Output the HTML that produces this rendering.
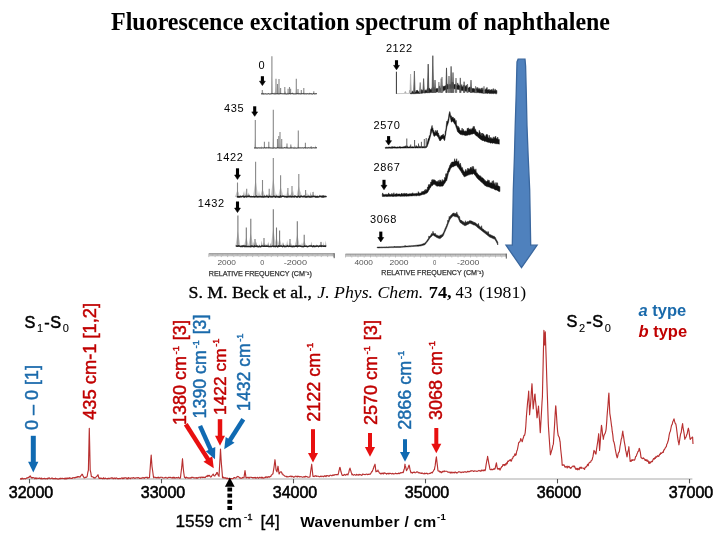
<!DOCTYPE html>
<html><head><meta charset="utf-8"><style>html,body{margin:0;padding:0;background:#fff;width:720px;height:540px;overflow:hidden}svg{display:block;will-change:transform}</style></head><body>
<svg width="720" height="540" viewBox="0 0 720 540">
<rect width="720" height="540" fill="#fff"/>
<text x="111" y="30" font-family="Liberation Serif, serif" font-weight="bold" font-size="24.2" textLength="499" lengthAdjust="spacingAndGlyphs">Fluorescence excitation spectrum of naphthalene</text>
<text x="258.5" y="68.8" font-family="Liberation Sans, sans-serif" font-size="11" letter-spacing="0.6" fill="#000">0</text>
<path d="M262.4 76.2 L262.4 81.7" stroke="#000" stroke-width="3.1"/><path d="M259.5 81.2 L265.3 81.2 L262.4 85.6 Z" fill="#000" stroke="#000" stroke-width="0.6" stroke-linejoin="round"/>
<path d="M261.9 94 L262.5 93 L263.1 94 Z" fill="#888"/>
<path d="M262.8 94 L263.4 92.4 L264 94 Z" fill="#888"/>
<path d="M264.9 94 L265.5 93.4 L266.1 94 Z" fill="#aaa"/>
<path d="M265.7 94 L266.3 93.9 L266.9 94 Z" fill="#888"/>
<path d="M267.9 94 L268.5 93.2 L269.1 94 Z" fill="#888"/>
<path d="M269.5 94 L270.1 93.5 L270.7 94 Z" fill="#888"/>
<path d="M271.1 94 L271.7 93.8 L272.3 94 Z" fill="#888"/>
<path d="M272.7 94 L273.3 93.3 L273.9 94 Z" fill="#888"/>
<path d="M274.3 94 L274.9 92.1 L275.5 94 Z" fill="#888"/>
<path d="M275.9 94 L276.5 93.3 L277.1 94 Z" fill="#aaa"/>
<path d="M277.8 94 L278.4 93.4 L279 94 Z" fill="#777"/>
<path d="M279 94 L279.6 93 L280.2 94 Z" fill="#999"/>
<path d="M279.9 94 L280.5 93.6 L281.1 94 Z" fill="#777"/>
<path d="M281.8 94 L282.4 93.7 L283 94 Z" fill="#888"/>
<path d="M283.3 94 L283.9 93.5 L284.5 94 Z" fill="#aaa"/>
<path d="M284.7 94 L285.3 91.1 L285.9 94 Z" fill="#777"/>
<path d="M285.9 94 L286.5 93.6 L287.1 94 Z" fill="#aaa"/>
<path d="M286.8 94 L287.4 93.7 L288 94 Z" fill="#888"/>
<path d="M287.6 94 L288.2 93.2 L288.8 94 Z" fill="#aaa"/>
<path d="M288.8 94 L289.4 93.5 L290 94 Z" fill="#888"/>
<path d="M291 94 L291.6 93.6 L292.2 94 Z" fill="#aaa"/>
<path d="M291.8 94 L292.4 91.7 L293 94 Z" fill="#999"/>
<path d="M293.1 94 L293.7 92.9 L294.3 94 Z" fill="#999"/>
<path d="M294.6 94 L295.2 93.3 L295.8 94 Z" fill="#aaa"/>
<path d="M296.6 94 L297.2 93.7 L297.8 94 Z" fill="#777"/>
<path d="M298.4 94 L299 92.9 L299.6 94 Z" fill="#888"/>
<path d="M299.4 94 L300 93.3 L300.6 94 Z" fill="#aaa"/>
<path d="M301.4 94 L302 93.5 L302.6 94 Z" fill="#999"/>
<path d="M302.8 94 L303.4 93.6 L304 94 Z" fill="#999"/>
<path d="M304.6 94 L305.2 93.4 L305.8 94 Z" fill="#888"/>
<path d="M306 94 L306.6 93 L307.2 94 Z" fill="#aaa"/>
<path d="M307.3 94 L307.9 93.5 L308.5 94 Z" fill="#aaa"/>
<path d="M308.2 94 L308.8 93.8 L309.4 94 Z" fill="#999"/>
<path d="M309.1 94 L309.7 92.2 L310.3 94 Z" fill="#999"/>
<path d="M310.6 94 L311.2 92.9 L311.8 94 Z" fill="#888"/>
<path d="M312.7 94 L313.3 92.2 L313.9 94 Z" fill="#777"/>
<path d="M314.9 94 L315.5 93.3 L316.1 94 Z" fill="#888"/>
<path d="M261.4 94 L262.3 92 L263.2 94 Z" fill="#c8c8c8"/>
<path d="M262.3 94 L262.3 90" stroke="#888" stroke-width="1.1"/>
<path d="M271 94 L271.9 75.2 L272.8 94 Z" fill="#c8c8c8"/>
<path d="M271.9 94 L271.9 56.3" stroke="#888" stroke-width="1.1"/>
<path d="M275.1 94 L276 86.4 L276.9 94 Z" fill="#c8c8c8"/>
<path d="M276 94 L276 78.8" stroke="#888" stroke-width="1.1"/>
<path d="M276.6 94 L277.5 89 L278.4 94 Z" fill="#c8c8c8"/>
<path d="M277.5 94 L277.5 84" stroke="#888" stroke-width="1.1"/>
<path d="M278.1 94 L279 86.5 L279.9 94 Z" fill="#c8c8c8"/>
<path d="M279 94 L279 79" stroke="#888" stroke-width="1.1"/>
<path d="M279.7 94 L280.6 91 L281.5 94 Z" fill="#c8c8c8"/>
<path d="M280.6 94 L280.6 88" stroke="#888" stroke-width="1.1"/>
<path d="M283.9 94 L284.8 90.5 L285.7 94 Z" fill="#c8c8c8"/>
<path d="M284.8 94 L284.8 86.9" stroke="#888" stroke-width="1.1"/>
<path d="M287.2 94 L288.1 91.4 L289 94 Z" fill="#c8c8c8"/>
<path d="M288.1 94 L288.1 88.8" stroke="#888" stroke-width="1.1"/>
<path d="M288.6 94 L289.5 90.5 L290.4 94 Z" fill="#c8c8c8"/>
<path d="M289.5 94 L289.5 87" stroke="#888" stroke-width="1.1"/>
<path d="M289.7 94 L290.6 91.4 L291.5 94 Z" fill="#c8c8c8"/>
<path d="M290.6 94 L290.6 88.8" stroke="#888" stroke-width="1.1"/>
<path d="M295.4 94 L296.3 86.4 L297.2 94 Z" fill="#c8c8c8"/>
<path d="M296.3 94 L296.3 78.8" stroke="#888" stroke-width="1.1"/>
<path d="M297.1 94 L298 91.5 L298.9 94 Z" fill="#c8c8c8"/>
<path d="M298 94 L298 89" stroke="#888" stroke-width="1.1"/>
<path d="M300.4 94 L301.3 92 L302.2 94 Z" fill="#c8c8c8"/>
<path d="M301.3 94 L301.3 90" stroke="#888" stroke-width="1.1"/>
<path d="M302.9 94 L303.8 91 L304.7 94 Z" fill="#c8c8c8"/>
<path d="M303.8 94 L303.8 88" stroke="#888" stroke-width="1.1"/>
<path d="M312.9 94 L313.8 92.7 L314.7 94 Z" fill="#c8c8c8"/>
<path d="M313.8 94 L313.8 91.3" stroke="#888" stroke-width="1.1"/>
<path d="M261 93.7 L261.7 93.9 L262.4 93.9 L263.1 94 L263.8 94 L264.5 93.9 L265.2 93.9 L265.9 93.8 L266.6 94 L267.3 94 L268 93.7 L268.7 93.8 L269.4 94 L270.1 93.8 L270.8 94 L271.5 93.8 L272.2 93.7 L272.9 93.7 L273.6 93.8 L274.3 93.9 L275 93.9 L275.7 93.9 L276.4 93.8 L277.1 93.8 L277.8 93.8 L278.5 93.9 L279.2 93.9 L279.9 93.8 L280.6 93.7 L281.3 93.7 L282 93.8 L282.7 93.8 L283.4 93.8 L284.1 93.9 L284.8 93.8 L285.5 93.9 L286.2 94 L286.9 94 L287.6 93.9 L288.3 93.9 L289 93.8 L289.7 93.7 L290.4 93.9 L291.1 93.7 L291.8 93.7 L292.5 93.7 L293.2 93.9 L293.9 93.9 L294.6 93.9 L295.3 93.9 L296 93.9 L296.7 93.8 L297.4 93.7 L298.1 93.7 L298.8 93.9 L299.5 93.8 L300.2 93.8 L300.9 94 L301.6 93.8 L302.3 93.7 L303 93.8 L303.7 93.8 L304.4 93.9 L305.1 93.9 L305.8 93.8 L306.5 93.9 L307.2 93.8 L307.9 93.7 L308.6 93.9 L309.3 93.9 L310 93.7 L310.7 93.8 L311.4 93.9 L312.1 94 L312.8 94 L313.5 93.7 L314.2 93.8 L314.9 94 L315.6 93.8 L316.3 93.7 L317 93.8" fill="none" stroke="#222" stroke-width="1.0"/>
<text x="224" y="111.7" font-family="Liberation Sans, sans-serif" font-size="11" letter-spacing="0.6" fill="#000">435</text>
<path d="M254.7 106.3 L254.7 112.4" stroke="#000" stroke-width="3.1"/><path d="M251.8 111.9 L257.6 111.9 L254.7 116.3 Z" fill="#000" stroke="#000" stroke-width="0.6" stroke-linejoin="round"/>
<path d="M254.9 148.1 L255.5 147.7 L256.1 148.1 Z" fill="#999"/>
<path d="M255.7 148.1 L256.3 147.1 L256.9 148.1 Z" fill="#888"/>
<path d="M257.2 148.1 L257.8 147 L258.4 148.1 Z" fill="#999"/>
<path d="M259.2 148.1 L259.8 147.5 L260.4 148.1 Z" fill="#777"/>
<path d="M260.7 148.1 L261.3 145.8 L261.9 148.1 Z" fill="#aaa"/>
<path d="M262.7 148.1 L263.3 148 L263.9 148.1 Z" fill="#aaa"/>
<path d="M264.5 148.1 L265.1 147.1 L265.7 148.1 Z" fill="#999"/>
<path d="M266 148.1 L266.6 146.5 L267.2 148.1 Z" fill="#aaa"/>
<path d="M267.9 148.1 L268.5 147.4 L269.1 148.1 Z" fill="#999"/>
<path d="M268.9 148.1 L269.5 147.5 L270.1 148.1 Z" fill="#888"/>
<path d="M270.2 148.1 L270.8 147.5 L271.4 148.1 Z" fill="#888"/>
<path d="M272.2 148.1 L272.8 147.9 L273.4 148.1 Z" fill="#888"/>
<path d="M274.2 148.1 L274.8 147.5 L275.4 148.1 Z" fill="#888"/>
<path d="M275.6 148.1 L276.2 147.4 L276.8 148.1 Z" fill="#999"/>
<path d="M277.4 148.1 L278 147.6 L278.6 148.1 Z" fill="#aaa"/>
<path d="M278.9 148.1 L279.5 147.8 L280.1 148.1 Z" fill="#777"/>
<path d="M281 148.1 L281.6 145.4 L282.2 148.1 Z" fill="#aaa"/>
<path d="M282 148.1 L282.6 148 L283.2 148.1 Z" fill="#888"/>
<path d="M283.7 148.1 L284.3 146.8 L284.9 148.1 Z" fill="#777"/>
<path d="M285.6 148.1 L286.2 145.4 L286.8 148.1 Z" fill="#777"/>
<path d="M286.6 148.1 L287.2 147 L287.8 148.1 Z" fill="#999"/>
<path d="M288.5 148.1 L289.1 148 L289.7 148.1 Z" fill="#999"/>
<path d="M290.7 148.1 L291.3 145.6 L291.9 148.1 Z" fill="#aaa"/>
<path d="M292.9 148.1 L293.5 147.6 L294.1 148.1 Z" fill="#777"/>
<path d="M294.2 148.1 L294.8 145.9 L295.4 148.1 Z" fill="#aaa"/>
<path d="M295.6 148.1 L296.2 148 L296.8 148.1 Z" fill="#777"/>
<path d="M297.1 148.1 L297.7 148 L298.3 148.1 Z" fill="#999"/>
<path d="M299.3 148.1 L299.9 147.8 L300.5 148.1 Z" fill="#888"/>
<path d="M301.4 148.1 L302 147.9 L302.6 148.1 Z" fill="#aaa"/>
<path d="M303.4 148.1 L304 147.3 L304.6 148.1 Z" fill="#aaa"/>
<path d="M304.4 148.1 L305 147 L305.6 148.1 Z" fill="#777"/>
<path d="M305.3 148.1 L305.9 148 L306.5 148.1 Z" fill="#aaa"/>
<path d="M307.4 148.1 L308 147.3 L308.6 148.1 Z" fill="#888"/>
<path d="M309.4 148.1 L310 148 L310.6 148.1 Z" fill="#888"/>
<path d="M310.5 148.1 L311.1 147.7 L311.7 148.1 Z" fill="#aaa"/>
<path d="M312.6 148.1 L313.2 147.3 L313.8 148.1 Z" fill="#999"/>
<path d="M314.8 148.1 L315.4 145.2 L316 148.1 Z" fill="#999"/>
<path d="M315.8 148.1 L316.4 147.2 L317 148.1 Z" fill="#999"/>
<path d="M254.4 148.1 L255.3 134.1 L256.2 148.1 Z" fill="#c8c8c8"/>
<path d="M255.3 148.1 L255.3 120" stroke="#888" stroke-width="1.1"/>
<path d="M272.4 148.1 L273.3 128.9 L274.2 148.1 Z" fill="#c8c8c8"/>
<path d="M273.3 148.1 L273.3 109.7" stroke="#888" stroke-width="1.1"/>
<path d="M263.5 148.1 L264.4 144.9 L265.3 148.1 Z" fill="#c8c8c8"/>
<path d="M264.4 148.1 L264.4 141.8" stroke="#888" stroke-width="1.1"/>
<path d="M267.9 148.1 L268.8 144.9 L269.7 148.1 Z" fill="#c8c8c8"/>
<path d="M268.8 148.1 L268.8 141.8" stroke="#888" stroke-width="1.1"/>
<path d="M276.6 148.1 L277.5 143.6 L278.4 148.1 Z" fill="#c8c8c8"/>
<path d="M277.5 148.1 L277.5 139" stroke="#888" stroke-width="1.1"/>
<path d="M277.9 148.1 L278.8 142.1 L279.7 148.1 Z" fill="#c8c8c8"/>
<path d="M278.8 148.1 L278.8 136" stroke="#888" stroke-width="1.1"/>
<path d="M279.1 148.1 L280 140.1 L280.9 148.1 Z" fill="#c8c8c8"/>
<path d="M280 148.1 L280 132.1" stroke="#888" stroke-width="1.1"/>
<path d="M280.8 148.1 L281.7 143.6 L282.6 148.1 Z" fill="#c8c8c8"/>
<path d="M281.7 148.1 L281.7 139" stroke="#888" stroke-width="1.1"/>
<path d="M286.1 148.1 L287 145.8 L287.9 148.1 Z" fill="#c8c8c8"/>
<path d="M287 148.1 L287 143.5" stroke="#888" stroke-width="1.1"/>
<path d="M289.9 148.1 L290.8 146.3 L291.7 148.1 Z" fill="#c8c8c8"/>
<path d="M290.8 148.1 L290.8 144.5" stroke="#888" stroke-width="1.1"/>
<path d="M297.4 148.1 L298.3 139.3 L299.2 148.1 Z" fill="#c8c8c8"/>
<path d="M298.3 148.1 L298.3 130.6" stroke="#888" stroke-width="1.1"/>
<path d="M304.5 148.1 L305.4 145.4 L306.3 148.1 Z" fill="#c8c8c8"/>
<path d="M305.4 148.1 L305.4 142.8" stroke="#888" stroke-width="1.1"/>
<path d="M310.3 148.1 L311.2 147.1 L312.1 148.1 Z" fill="#c8c8c8"/>
<path d="M311.2 148.1 L311.2 146.2" stroke="#888" stroke-width="1.1"/>
<path d="M254 147.9 L254.7 148 L255.4 148 L256.1 148.1 L256.8 148 L257.5 148.1 L258.2 147.9 L258.9 147.9 L259.6 148 L260.3 148 L261 147.8 L261.7 148.1 L262.4 147.9 L263.1 148 L263.8 148 L264.5 147.8 L265.2 148 L265.9 147.9 L266.6 147.9 L267.3 147.8 L268 148 L268.7 147.9 L269.4 147.9 L270.1 147.9 L270.8 148 L271.5 148 L272.2 148.1 L272.9 148.1 L273.6 148.1 L274.3 147.9 L275 148 L275.7 148.1 L276.4 148.1 L277.1 147.8 L277.8 147.8 L278.5 147.9 L279.2 148 L279.9 148 L280.6 148 L281.3 148 L282 148.1 L282.7 148 L283.4 148 L284.1 147.8 L284.8 147.8 L285.5 147.9 L286.2 148 L286.9 147.8 L287.6 148 L288.3 148 L289 148.1 L289.7 148 L290.4 148 L291.1 147.9 L291.8 148 L292.5 147.9 L293.2 148.1 L293.9 148 L294.6 148.1 L295.3 148 L296 148.1 L296.7 148.1 L297.4 148 L298.1 148 L298.8 147.9 L299.5 147.9 L300.2 147.9 L300.9 147.9 L301.6 147.9 L302.3 147.8 L303 148 L303.7 148 L304.4 147.8 L305.1 148.1 L305.8 147.9 L306.5 147.9 L307.2 148.1 L307.9 147.8 L308.6 147.8 L309.3 147.9 L310 147.9 L310.7 147.9 L311.4 148.1 L312.1 147.9 L312.8 147.9 L313.5 147.8 L314.2 147.9 L314.9 147.9 L315.6 147.9 L316.3 147.8 L317 147.9" fill="none" stroke="#222" stroke-width="1.0"/>
<text x="216.5" y="161.3" font-family="Liberation Sans, sans-serif" font-size="11" letter-spacing="0.6" fill="#000">1422</text>
<path d="M237.5 168.3 L237.5 175.5" stroke="#000" stroke-width="3.1"/><path d="M234.6 175 L240.4 175 L237.5 179.4 Z" fill="#000" stroke="#000" stroke-width="0.6" stroke-linejoin="round"/>
<path d="M237.8 197 L238.4 192.1 L239 197 Z" fill="#888"/>
<path d="M238.3 197 L238.9 195.2 L239.5 197 Z" fill="#aaa"/>
<path d="M239.7 197 L240.3 195.4 L240.9 197 Z" fill="#999"/>
<path d="M240.7 197 L241.3 197 L241.9 197 Z" fill="#888"/>
<path d="M241.8 197 L242.4 196.8 L243 197 Z" fill="#777"/>
<path d="M243.1 197 L243.7 191.1 L244.3 197 Z" fill="#999"/>
<path d="M243.9 197 L244.5 195.2 L245.1 197 Z" fill="#aaa"/>
<path d="M244.4 197 L245 190.6 L245.6 197 Z" fill="#888"/>
<path d="M245.6 197 L246.2 192.5 L246.8 197 Z" fill="#999"/>
<path d="M246.4 197 L247 195.2 L247.6 197 Z" fill="#999"/>
<path d="M246.9 197 L247.5 196.6 L248.1 197 Z" fill="#888"/>
<path d="M248.1 197 L248.7 192.3 L249.3 197 Z" fill="#777"/>
<path d="M249.1 197 L249.7 193.7 L250.3 197 Z" fill="#999"/>
<path d="M249.9 197 L250.5 196.8 L251.1 197 Z" fill="#777"/>
<path d="M250.8 197 L251.4 194.7 L252 197 Z" fill="#aaa"/>
<path d="M252.3 197 L252.9 195.9 L253.5 197 Z" fill="#999"/>
<path d="M252.9 197 L253.5 196.7 L254.1 197 Z" fill="#777"/>
<path d="M254.4 197 L255 196.6 L255.6 197 Z" fill="#777"/>
<path d="M255.7 197 L256.3 192.1 L256.9 197 Z" fill="#aaa"/>
<path d="M256.6 197 L257.2 196.6 L257.8 197 Z" fill="#aaa"/>
<path d="M257.5 197 L258.1 195 L258.7 197 Z" fill="#aaa"/>
<path d="M258.4 197 L259 191.1 L259.6 197 Z" fill="#777"/>
<path d="M259.7 197 L260.3 196.7 L260.9 197 Z" fill="#888"/>
<path d="M261.1 197 L261.7 195 L262.3 197 Z" fill="#aaa"/>
<path d="M262 197 L262.6 190.9 L263.2 197 Z" fill="#aaa"/>
<path d="M263.2 197 L263.8 191 L264.4 197 Z" fill="#888"/>
<path d="M264.6 197 L265.2 196.2 L265.8 197 Z" fill="#999"/>
<path d="M266 197 L266.6 193.9 L267.2 197 Z" fill="#777"/>
<path d="M267.3 197 L267.9 194 L268.5 197 Z" fill="#aaa"/>
<path d="M268.7 197 L269.3 194.4 L269.9 197 Z" fill="#888"/>
<path d="M269.3 197 L269.9 194.9 L270.5 197 Z" fill="#999"/>
<path d="M270.4 197 L271 195 L271.6 197 Z" fill="#999"/>
<path d="M271.1 197 L271.7 194.1 L272.3 197 Z" fill="#777"/>
<path d="M272.3 197 L272.9 190.2 L273.5 197 Z" fill="#999"/>
<path d="M273.2 197 L273.8 193.1 L274.4 197 Z" fill="#999"/>
<path d="M274.3 197 L274.9 196.8 L275.5 197 Z" fill="#aaa"/>
<path d="M275.3 197 L275.9 193.8 L276.5 197 Z" fill="#aaa"/>
<path d="M276.3 197 L276.9 193.2 L277.5 197 Z" fill="#999"/>
<path d="M277.1 197 L277.7 196.4 L278.3 197 Z" fill="#777"/>
<path d="M278.4 197 L279 195.6 L279.6 197 Z" fill="#aaa"/>
<path d="M279.3 197 L279.9 191.8 L280.5 197 Z" fill="#777"/>
<path d="M280.1 197 L280.7 196.6 L281.3 197 Z" fill="#777"/>
<path d="M280.8 197 L281.4 195.6 L282 197 Z" fill="#999"/>
<path d="M281.4 197 L282 190.7 L282.6 197 Z" fill="#aaa"/>
<path d="M282.3 197 L282.9 196.1 L283.5 197 Z" fill="#888"/>
<path d="M282.9 197 L283.5 195.8 L284.1 197 Z" fill="#aaa"/>
<path d="M284.4 197 L285 193.6 L285.6 197 Z" fill="#aaa"/>
<path d="M285.9 197 L286.5 195.3 L287.1 197 Z" fill="#999"/>
<path d="M286.5 197 L287.1 190.2 L287.7 197 Z" fill="#aaa"/>
<path d="M287.1 197 L287.7 191.6 L288.3 197 Z" fill="#999"/>
<path d="M287.8 197 L288.4 194.4 L289 197 Z" fill="#777"/>
<path d="M289.3 197 L289.9 195.2 L290.5 197 Z" fill="#aaa"/>
<path d="M290.5 197 L291.1 196.2 L291.7 197 Z" fill="#999"/>
<path d="M291.4 197 L292 196.4 L292.6 197 Z" fill="#888"/>
<path d="M292.4 197 L293 190 L293.6 197 Z" fill="#777"/>
<path d="M293.6 197 L294.2 194.5 L294.8 197 Z" fill="#999"/>
<path d="M294.6 197 L295.2 196.9 L295.8 197 Z" fill="#777"/>
<path d="M295.2 197 L295.8 196.5 L296.4 197 Z" fill="#aaa"/>
<path d="M295.7 197 L296.3 196.4 L296.9 197 Z" fill="#777"/>
<path d="M296.5 197 L297.1 196.8 L297.7 197 Z" fill="#aaa"/>
<path d="M297.3 197 L297.9 194.2 L298.5 197 Z" fill="#777"/>
<path d="M298.6 197 L299.2 193.5 L299.8 197 Z" fill="#999"/>
<path d="M299.4 197 L300 191.3 L300.6 197 Z" fill="#999"/>
<path d="M300.2 197 L300.8 190.8 L301.4 197 Z" fill="#aaa"/>
<path d="M301.3 197 L301.9 194.5 L302.5 197 Z" fill="#888"/>
<path d="M302.7 197 L303.3 196 L303.9 197 Z" fill="#999"/>
<path d="M303.2 197 L303.8 195.3 L304.4 197 Z" fill="#888"/>
<path d="M303.9 197 L304.5 195.7 L305.1 197 Z" fill="#777"/>
<path d="M305.2 197 L305.8 194.2 L306.4 197 Z" fill="#777"/>
<path d="M305.8 197 L306.4 195.2 L307 197 Z" fill="#aaa"/>
<path d="M306.4 197 L307 192.3 L307.6 197 Z" fill="#777"/>
<path d="M307.9 197 L308.5 193.9 L309.1 197 Z" fill="#888"/>
<path d="M308.6 197 L309.2 196 L309.8 197 Z" fill="#888"/>
<path d="M309.7 197 L310.3 191.7 L310.9 197 Z" fill="#777"/>
<path d="M311 197 L311.6 194 L312.2 197 Z" fill="#aaa"/>
<path d="M311.7 197 L312.3 195.5 L312.9 197 Z" fill="#777"/>
<path d="M312.6 197 L313.2 190.7 L313.8 197 Z" fill="#aaa"/>
<path d="M313.3 197 L313.9 195.2 L314.5 197 Z" fill="#aaa"/>
<path d="M313.9 197 L314.5 196.8 L315.1 197 Z" fill="#777"/>
<path d="M314.6 197 L315.2 196.8 L315.8 197 Z" fill="#777"/>
<path d="M315.3 197 L315.9 194.3 L316.5 197 Z" fill="#777"/>
<path d="M316.6 197 L317.2 195.1 L317.8 197 Z" fill="#777"/>
<path d="M317.1 197 L317.7 194.9 L318.3 197 Z" fill="#888"/>
<path d="M317.6 197 L318.2 196.3 L318.8 197 Z" fill="#aaa"/>
<path d="M319.1 197 L319.7 194.3 L320.3 197 Z" fill="#aaa"/>
<path d="M320.4 197 L321 196.6 L321.6 197 Z" fill="#888"/>
<path d="M321.7 197 L322.3 194.9 L322.9 197 Z" fill="#999"/>
<path d="M322.8 197 L323.4 194.7 L324 197 Z" fill="#777"/>
<path d="M324.1 197 L324.7 195.3 L325.3 197 Z" fill="#aaa"/>
<path d="M325.3 197 L325.9 195.3 L326.5 197 Z" fill="#888"/>
<path d="M234.9 197 L237.5 189.8 L240.1 197 Z" fill="#c8c8c8"/>
<path d="M237.5 197 L237.5 182.5" stroke="#888" stroke-width="1.1"/>
<path d="M244.1 197 L246.7 192.9 L249.3 197 Z" fill="#c8c8c8"/>
<path d="M246.7 197 L246.7 188.8" stroke="#888" stroke-width="1.1"/>
<path d="M253 197 L255.6 179.3 L258.2 197 Z" fill="#c8c8c8"/>
<path d="M255.6 197 L255.6 161.7" stroke="#888" stroke-width="1.1"/>
<path d="M259.9 197 L262.5 188.5 L265.1 197 Z" fill="#c8c8c8"/>
<path d="M262.5 197 L262.5 180" stroke="#888" stroke-width="1.1"/>
<path d="M266.6 197 L269.2 192.9 L271.8 197 Z" fill="#c8c8c8"/>
<path d="M269.2 197 L269.2 188.8" stroke="#888" stroke-width="1.1"/>
<path d="M270.7 197 L273.3 177.4 L275.9 197 Z" fill="#c8c8c8"/>
<path d="M273.3 197 L273.3 157.9" stroke="#888" stroke-width="1.1"/>
<path d="M278 197 L280.6 186.1 L283.2 197 Z" fill="#c8c8c8"/>
<path d="M280.6 197 L280.6 175.2" stroke="#888" stroke-width="1.1"/>
<path d="M285.3 197 L287.9 192.5 L290.5 197 Z" fill="#c8c8c8"/>
<path d="M287.9 197 L287.9 188" stroke="#888" stroke-width="1.1"/>
<path d="M289.4 197 L292 191.5 L294.6 197 Z" fill="#c8c8c8"/>
<path d="M292 197 L292 186" stroke="#888" stroke-width="1.1"/>
<path d="M296.2 197 L298.8 185.5 L301.4 197 Z" fill="#c8c8c8"/>
<path d="M298.8 197 L298.8 174" stroke="#888" stroke-width="1.1"/>
<path d="M303 197 L305.6 193.5 L308.2 197 Z" fill="#c8c8c8"/>
<path d="M305.6 197 L305.6 190" stroke="#888" stroke-width="1.1"/>
<path d="M310.4 197 L313 194.5 L315.6 197 Z" fill="#c8c8c8"/>
<path d="M313 197 L313 192" stroke="#888" stroke-width="1.1"/>
<path d="M236.9 196.6 L237.6 196.9 L238.3 196.7 L239 196.9 L239.7 196.9 L240.4 196.5 L241.1 196.8 L241.8 196.7 L242.5 196.2 L243.2 196.2 L243.9 196.9 L244.6 196.9 L245.3 196.6 L246 196.3 L246.7 196.8 L247.4 196.6 L248.1 196.4 L248.8 196.4 L249.5 196.4 L250.2 196.8 L250.9 196.8 L251.6 196.8 L252.3 196.8 L253 196.8 L253.7 196.6 L254.4 196.9 L255.1 196.8 L255.8 196.8 L256.5 196.3 L257.2 196.8 L257.9 196.9 L258.6 196.8 L259.3 196.8 L260 196.6 L260.7 196.5 L261.4 196.9 L262.1 196.6 L262.8 197 L263.5 197 L264.2 196.3 L264.9 196.8 L265.6 196.6 L266.3 196.7 L267 196.3 L267.7 196.8 L268.4 197 L269.1 196.5 L269.8 196.3 L270.5 196.8 L271.2 196.9 L271.9 196.6 L272.6 196.9 L273.3 196.5 L274 196.4 L274.7 196.5 L275.4 197 L276.1 196.5 L276.8 196.4 L277.5 196.7 L278.2 197 L278.9 196.7 L279.6 197 L280.3 196.2 L281 197 L281.7 196.4 L282.4 196.3 L283.1 196.3 L283.8 196.3 L284.5 196.7 L285.2 196.7 L285.9 196.5 L286.6 196.9 L287.3 197 L288 196.6 L288.7 196.6 L289.4 196.7 L290.1 196.4 L290.8 196.5 L291.5 196.9 L292.2 196.6 L292.9 196.5 L293.6 196.7 L294.3 196.8 L295 196.2 L295.7 196.5 L296.4 196.7 L297.1 197 L297.8 196.4 L298.5 196.3 L299.2 196.7 L299.9 197 L300.6 196.4 L301.3 196.4 L302 196.5 L302.7 196.7 L303.4 196.7 L304.1 196.2 L304.8 196.7 L305.5 196.9 L306.2 196.9 L306.9 196.9 L307.6 196.5 L308.3 196.7 L309 196.4 L309.7 196.9 L310.4 197 L311.1 196.9 L311.8 196.4 L312.5 196.7 L313.2 196.5 L313.9 196.3 L314.6 196.4 L315.3 196.9 L316 196.7 L316.7 196.9 L317.4 196.9 L318.1 196.9 L318.8 196.7 L319.5 196.4 L320.2 196.4 L320.9 196.4 L321.6 196.8 L322.3 196.3 L323 197 L323.7 196.3 L324.4 196.7 L325.1 196.5 L325.8 196.5 L326.5 196.9" fill="none" stroke="#222" stroke-width="1.6"/>
<text x="197.8" y="206.7" font-family="Liberation Sans, sans-serif" font-size="11" letter-spacing="0.6" fill="#000">1432</text>
<path d="M237.5 201.5 L237.5 208.6" stroke="#000" stroke-width="3.1"/><path d="M234.6 208.1 L240.4 208.1 L237.5 212.5 Z" fill="#000" stroke="#000" stroke-width="0.6" stroke-linejoin="round"/>
<path d="M236.7 246.7 L237.3 244.7 L237.9 246.7 Z" fill="#999"/>
<path d="M237.8 246.7 L238.4 244.3 L239 246.7 Z" fill="#999"/>
<path d="M239.2 246.7 L239.8 245.4 L240.4 246.7 Z" fill="#aaa"/>
<path d="M240.6 246.7 L241.2 245.6 L241.8 246.7 Z" fill="#999"/>
<path d="M241.4 246.7 L242 244.7 L242.6 246.7 Z" fill="#888"/>
<path d="M242.7 246.7 L243.3 244.3 L243.9 246.7 Z" fill="#777"/>
<path d="M243.4 246.7 L244 245 L244.6 246.7 Z" fill="#777"/>
<path d="M244.5 246.7 L245.1 244.5 L245.7 246.7 Z" fill="#aaa"/>
<path d="M245.7 246.7 L246.3 245.4 L246.9 246.7 Z" fill="#888"/>
<path d="M246.2 246.7 L246.8 243.9 L247.4 246.7 Z" fill="#aaa"/>
<path d="M247.4 246.7 L248 244.5 L248.6 246.7 Z" fill="#999"/>
<path d="M248.7 246.7 L249.3 243.9 L249.9 246.7 Z" fill="#777"/>
<path d="M249.7 246.7 L250.3 246.4 L250.9 246.7 Z" fill="#888"/>
<path d="M250.2 246.7 L250.8 246.3 L251.4 246.7 Z" fill="#777"/>
<path d="M251.5 246.7 L252.1 243.1 L252.7 246.7 Z" fill="#aaa"/>
<path d="M252.6 246.7 L253.2 241.2 L253.8 246.7 Z" fill="#888"/>
<path d="M254.1 246.7 L254.7 244.7 L255.3 246.7 Z" fill="#999"/>
<path d="M254.8 246.7 L255.4 240.5 L256 246.7 Z" fill="#999"/>
<path d="M256 246.7 L256.6 241.7 L257.2 246.7 Z" fill="#777"/>
<path d="M257.1 246.7 L257.7 244.9 L258.3 246.7 Z" fill="#777"/>
<path d="M258.5 246.7 L259.1 243.5 L259.7 246.7 Z" fill="#aaa"/>
<path d="M259.2 246.7 L259.8 246 L260.4 246.7 Z" fill="#777"/>
<path d="M260.1 246.7 L260.7 246.1 L261.3 246.7 Z" fill="#777"/>
<path d="M261.2 246.7 L261.8 240.4 L262.4 246.7 Z" fill="#777"/>
<path d="M261.8 246.7 L262.4 245.2 L263 246.7 Z" fill="#777"/>
<path d="M263.3 246.7 L263.9 245.4 L264.5 246.7 Z" fill="#888"/>
<path d="M264.1 246.7 L264.7 245.2 L265.3 246.7 Z" fill="#777"/>
<path d="M264.8 246.7 L265.4 243.9 L266 246.7 Z" fill="#777"/>
<path d="M265.7 246.7 L266.3 246.1 L266.9 246.7 Z" fill="#888"/>
<path d="M266.5 246.7 L267.1 243.1 L267.7 246.7 Z" fill="#777"/>
<path d="M267.7 246.7 L268.3 241.5 L268.9 246.7 Z" fill="#777"/>
<path d="M268.8 246.7 L269.4 245.5 L270 246.7 Z" fill="#888"/>
<path d="M269.4 246.7 L270 246.1 L270.6 246.7 Z" fill="#888"/>
<path d="M270 246.7 L270.6 242.7 L271.2 246.7 Z" fill="#777"/>
<path d="M271 246.7 L271.6 243.8 L272.2 246.7 Z" fill="#999"/>
<path d="M271.7 246.7 L272.3 245 L272.9 246.7 Z" fill="#999"/>
<path d="M272.2 246.7 L272.8 244.5 L273.4 246.7 Z" fill="#aaa"/>
<path d="M272.8 246.7 L273.4 244.9 L274 246.7 Z" fill="#777"/>
<path d="M273.7 246.7 L274.3 244.9 L274.9 246.7 Z" fill="#777"/>
<path d="M274.8 246.7 L275.4 245.1 L276 246.7 Z" fill="#aaa"/>
<path d="M275.6 246.7 L276.2 240.4 L276.8 246.7 Z" fill="#888"/>
<path d="M276.5 246.7 L277.1 245 L277.7 246.7 Z" fill="#888"/>
<path d="M277 246.7 L277.6 245.2 L278.2 246.7 Z" fill="#999"/>
<path d="M277.9 246.7 L278.5 245.2 L279.1 246.7 Z" fill="#aaa"/>
<path d="M279.2 246.7 L279.8 245.5 L280.4 246.7 Z" fill="#777"/>
<path d="M280.4 246.7 L281 243.9 L281.6 246.7 Z" fill="#aaa"/>
<path d="M281.6 246.7 L282.2 246.7 L282.8 246.7 Z" fill="#aaa"/>
<path d="M282.2 246.7 L282.8 242.1 L283.4 246.7 Z" fill="#888"/>
<path d="M282.9 246.7 L283.5 242.2 L284.1 246.7 Z" fill="#777"/>
<path d="M284.1 246.7 L284.7 246 L285.3 246.7 Z" fill="#aaa"/>
<path d="M285.3 246.7 L285.9 244.1 L286.5 246.7 Z" fill="#777"/>
<path d="M286.5 246.7 L287.1 239.9 L287.7 246.7 Z" fill="#888"/>
<path d="M287.1 246.7 L287.7 244.2 L288.3 246.7 Z" fill="#999"/>
<path d="M288.6 246.7 L289.2 241.5 L289.8 246.7 Z" fill="#aaa"/>
<path d="M289.4 246.7 L290 246 L290.6 246.7 Z" fill="#aaa"/>
<path d="M290.4 246.7 L291 243 L291.6 246.7 Z" fill="#888"/>
<path d="M291.3 246.7 L291.9 244.7 L292.5 246.7 Z" fill="#777"/>
<path d="M292.6 246.7 L293.2 245.6 L293.8 246.7 Z" fill="#999"/>
<path d="M293.2 246.7 L293.8 246.5 L294.4 246.7 Z" fill="#999"/>
<path d="M294.1 246.7 L294.7 245.7 L295.3 246.7 Z" fill="#888"/>
<path d="M294.7 246.7 L295.3 242.2 L295.9 246.7 Z" fill="#888"/>
<path d="M296 246.7 L296.6 246.5 L297.2 246.7 Z" fill="#777"/>
<path d="M296.7 246.7 L297.3 244 L297.9 246.7 Z" fill="#888"/>
<path d="M298 246.7 L298.6 244.6 L299.2 246.7 Z" fill="#aaa"/>
<path d="M298.6 246.7 L299.2 245.3 L299.8 246.7 Z" fill="#888"/>
<path d="M300.1 246.7 L300.7 244.1 L301.3 246.7 Z" fill="#888"/>
<path d="M301.4 246.7 L302 242.3 L302.6 246.7 Z" fill="#888"/>
<path d="M302.1 246.7 L302.7 244.5 L303.3 246.7 Z" fill="#777"/>
<path d="M302.9 246.7 L303.5 243.7 L304.1 246.7 Z" fill="#777"/>
<path d="M304.3 246.7 L304.9 246.6 L305.5 246.7 Z" fill="#777"/>
<path d="M305.6 246.7 L306.2 245 L306.8 246.7 Z" fill="#777"/>
<path d="M306.7 246.7 L307.3 246.6 L307.9 246.7 Z" fill="#aaa"/>
<path d="M307.7 246.7 L308.3 246.4 L308.9 246.7 Z" fill="#888"/>
<path d="M308.7 246.7 L309.3 246.1 L309.9 246.7 Z" fill="#888"/>
<path d="M309.8 246.7 L310.4 245.9 L311 246.7 Z" fill="#999"/>
<path d="M310.6 246.7 L311.2 241.4 L311.8 246.7 Z" fill="#777"/>
<path d="M311.6 246.7 L312.2 245.3 L312.8 246.7 Z" fill="#999"/>
<path d="M313.1 246.7 L313.7 245 L314.3 246.7 Z" fill="#777"/>
<path d="M314.1 246.7 L314.7 246.3 L315.3 246.7 Z" fill="#999"/>
<path d="M315.1 246.7 L315.7 246.4 L316.3 246.7 Z" fill="#888"/>
<path d="M316.1 246.7 L316.7 243.9 L317.3 246.7 Z" fill="#888"/>
<path d="M317.3 246.7 L317.9 245.7 L318.5 246.7 Z" fill="#aaa"/>
<path d="M318.7 246.7 L319.3 244.6 L319.9 246.7 Z" fill="#888"/>
<path d="M319.5 246.7 L320.1 245.9 L320.7 246.7 Z" fill="#999"/>
<path d="M320.4 246.7 L321 240.5 L321.6 246.7 Z" fill="#aaa"/>
<path d="M321 246.7 L321.6 245 L322.2 246.7 Z" fill="#888"/>
<path d="M321.9 246.7 L322.5 244.4 L323.1 246.7 Z" fill="#aaa"/>
<path d="M323 246.7 L323.6 241.5 L324.2 246.7 Z" fill="#aaa"/>
<path d="M324.2 246.7 L324.8 244.9 L325.4 246.7 Z" fill="#777"/>
<path d="M325.2 246.7 L325.8 240.5 L326.4 246.7 Z" fill="#999"/>
<path d="M235.3 246.7 L237.9 231.1 L240.5 246.7 Z" fill="#c8c8c8"/>
<path d="M237.9 246.7 L237.9 215.4" stroke="#777" stroke-width="1.1"/>
<path d="M243.7 246.7 L246.3 237.1 L248.9 246.7 Z" fill="#c8c8c8"/>
<path d="M246.3 246.7 L246.3 227.5" stroke="#777" stroke-width="1.1"/>
<path d="M248.2 246.7 L250.8 232.8 L253.4 246.7 Z" fill="#c8c8c8"/>
<path d="M250.8 246.7 L250.8 218.8" stroke="#777" stroke-width="1.1"/>
<path d="M252.4 246.7 L255 242.8 L257.6 246.7 Z" fill="#c8c8c8"/>
<path d="M255 246.7 L255 239" stroke="#777" stroke-width="1.1"/>
<path d="M261.4 246.7 L264 242.3 L266.6 246.7 Z" fill="#c8c8c8"/>
<path d="M264 246.7 L264 238" stroke="#777" stroke-width="1.1"/>
<path d="M270.7 246.7 L273.3 227.9 L275.9 246.7 Z" fill="#c8c8c8"/>
<path d="M273.3 246.7 L273.3 209.2" stroke="#777" stroke-width="1.1"/>
<path d="M273.9 246.7 L276.5 237.1 L279.1 246.7 Z" fill="#c8c8c8"/>
<path d="M276.5 246.7 L276.5 227.5" stroke="#777" stroke-width="1.1"/>
<path d="M277 246.7 L279.6 238.6 L282.2 246.7 Z" fill="#c8c8c8"/>
<path d="M279.6 246.7 L279.6 230.6" stroke="#777" stroke-width="1.1"/>
<path d="M287.4 246.7 L290 242.8 L292.6 246.7 Z" fill="#c8c8c8"/>
<path d="M290 246.7 L290 239" stroke="#777" stroke-width="1.1"/>
<path d="M294.7 246.7 L297.3 234 L299.9 246.7 Z" fill="#c8c8c8"/>
<path d="M297.3 246.7 L297.3 221.3" stroke="#777" stroke-width="1.1"/>
<path d="M301.6 246.7 L304.2 240.8 L306.8 246.7 Z" fill="#c8c8c8"/>
<path d="M304.2 246.7 L304.2 234.8" stroke="#777" stroke-width="1.1"/>
<path d="M318.4 246.7 L321 244.3 L323.6 246.7 Z" fill="#c8c8c8"/>
<path d="M321 246.7 L321 242" stroke="#777" stroke-width="1.1"/>
<path d="M235.8 246.1 L236.5 246 L237.2 246.2 L237.9 246.1 L238.6 245.9 L239.3 246.1 L240 246.2 L240.7 246.4 L241.4 246.5 L242.1 245.9 L242.8 246.5 L243.5 245.9 L244.2 245.9 L244.9 246.6 L245.6 246.2 L246.3 246.5 L247 246.6 L247.7 246.6 L248.4 246.5 L249.1 246.5 L249.8 246.5 L250.5 246.6 L251.2 246 L251.9 246.5 L252.6 246 L253.3 246.3 L254 246.7 L254.7 246 L255.4 246.4 L256.1 246.5 L256.8 245.9 L257.5 246.5 L258.2 246.7 L258.9 246.5 L259.6 246.1 L260.3 246.7 L261 246.5 L261.7 246 L262.4 246.1 L263.1 246.2 L263.8 246.2 L264.5 246 L265.2 246.2 L265.9 246.2 L266.6 246 L267.3 246.2 L268 246.2 L268.7 246.5 L269.4 246.6 L270.1 246.6 L270.8 246.4 L271.5 246.5 L272.2 246.1 L272.9 246 L273.6 246.5 L274.3 246.4 L275 246.1 L275.7 246.6 L276.4 246 L277.1 246.3 L277.8 246.7 L278.5 246 L279.2 246.3 L279.9 246.2 L280.6 246 L281.3 246 L282 246.4 L282.7 246.7 L283.4 246 L284.1 246 L284.8 246.6 L285.5 246.5 L286.2 246.5 L286.9 246.1 L287.6 245.9 L288.3 246.5 L289 246.4 L289.7 246 L290.4 246.3 L291.1 246.5 L291.8 246.3 L292.5 246.7 L293.2 246.1 L293.9 246.4 L294.6 246.4 L295.3 246.1 L296 246.3 L296.7 245.9 L297.4 246.6 L298.1 246.3 L298.8 246 L299.5 246.1 L300.2 246.2 L300.9 246.2 L301.6 246.5 L302.3 246.4 L303 246.7 L303.7 246.6 L304.4 246 L305.1 246.2 L305.8 246.2 L306.5 246.2 L307.2 246.6 L307.9 246.5 L308.6 246.4 L309.3 245.9 L310 245.9 L310.7 245.9 L311.4 245.9 L312.1 246.3 L312.8 246.6 L313.5 246 L314.2 246.6 L314.9 246.1 L315.6 246.5 L316.3 246.2 L317 246.1 L317.7 246 L318.4 246.6 L319.1 246.2 L319.8 246 L320.5 246.1 L321.2 246.4 L321.9 245.9 L322.6 246.1 L323.3 246.2 L324 246.1 L324.7 246.3 L325.4 246.1 L326.1 246.5" fill="none" stroke="#222" stroke-width="1.5"/>
<rect x="208.8" y="253.9" width="125.4" height="2.6" fill="#e2e2e2"/>
<path d="M208.8 253.7 L334.2 253.7" stroke="#777" stroke-width="0.8"/>
<path d="M208.8 253.7 L208.8 257.1" stroke="#888" stroke-width="0.5"/>
<path d="M210.1 253.7 L210.1 256.1" stroke="#888" stroke-width="0.5"/>
<path d="M211.3 253.7 L211.3 256.1" stroke="#888" stroke-width="0.5"/>
<path d="M212.6 253.7 L212.6 256.1" stroke="#888" stroke-width="0.5"/>
<path d="M213.8 253.7 L213.8 256.1" stroke="#888" stroke-width="0.5"/>
<path d="M215.1 253.7 L215.1 257.1" stroke="#888" stroke-width="0.5"/>
<path d="M216.3 253.7 L216.3 256.1" stroke="#888" stroke-width="0.5"/>
<path d="M217.6 253.7 L217.6 256.1" stroke="#888" stroke-width="0.5"/>
<path d="M218.8 253.7 L218.8 256.1" stroke="#888" stroke-width="0.5"/>
<path d="M220.1 253.7 L220.1 256.1" stroke="#888" stroke-width="0.5"/>
<path d="M221.3 253.7 L221.3 257.1" stroke="#888" stroke-width="0.5"/>
<path d="M222.6 253.7 L222.6 256.1" stroke="#888" stroke-width="0.5"/>
<path d="M223.8 253.7 L223.8 256.1" stroke="#888" stroke-width="0.5"/>
<path d="M225.1 253.7 L225.1 256.1" stroke="#888" stroke-width="0.5"/>
<path d="M226.3 253.7 L226.3 256.1" stroke="#888" stroke-width="0.5"/>
<path d="M227.6 253.7 L227.6 257.1" stroke="#888" stroke-width="0.5"/>
<path d="M228.8 253.7 L228.8 256.1" stroke="#888" stroke-width="0.5"/>
<path d="M230.1 253.7 L230.1 256.1" stroke="#888" stroke-width="0.5"/>
<path d="M231.3 253.7 L231.3 256.1" stroke="#888" stroke-width="0.5"/>
<path d="M232.6 253.7 L232.6 256.1" stroke="#888" stroke-width="0.5"/>
<path d="M233.8 253.7 L233.8 257.1" stroke="#888" stroke-width="0.5"/>
<path d="M235.1 253.7 L235.1 256.1" stroke="#888" stroke-width="0.5"/>
<path d="M236.3 253.7 L236.3 256.1" stroke="#888" stroke-width="0.5"/>
<path d="M237.6 253.7 L237.6 256.1" stroke="#888" stroke-width="0.5"/>
<path d="M238.8 253.7 L238.8 256.1" stroke="#888" stroke-width="0.5"/>
<path d="M240.1 253.7 L240.1 257.1" stroke="#888" stroke-width="0.5"/>
<path d="M241.3 253.7 L241.3 256.1" stroke="#888" stroke-width="0.5"/>
<path d="M242.6 253.7 L242.6 256.1" stroke="#888" stroke-width="0.5"/>
<path d="M243.8 253.7 L243.8 256.1" stroke="#888" stroke-width="0.5"/>
<path d="M245.1 253.7 L245.1 256.1" stroke="#888" stroke-width="0.5"/>
<path d="M246.3 253.7 L246.3 257.1" stroke="#888" stroke-width="0.5"/>
<path d="M247.6 253.7 L247.6 256.1" stroke="#888" stroke-width="0.5"/>
<path d="M248.8 253.7 L248.8 256.1" stroke="#888" stroke-width="0.5"/>
<path d="M250.1 253.7 L250.1 256.1" stroke="#888" stroke-width="0.5"/>
<path d="M251.3 253.7 L251.3 256.1" stroke="#888" stroke-width="0.5"/>
<path d="M252.6 253.7 L252.6 257.1" stroke="#888" stroke-width="0.5"/>
<path d="M253.8 253.7 L253.8 256.1" stroke="#888" stroke-width="0.5"/>
<path d="M255.1 253.7 L255.1 256.1" stroke="#888" stroke-width="0.5"/>
<path d="M256.3 253.7 L256.3 256.1" stroke="#888" stroke-width="0.5"/>
<path d="M257.6 253.7 L257.6 256.1" stroke="#888" stroke-width="0.5"/>
<path d="M258.8 253.7 L258.8 257.1" stroke="#888" stroke-width="0.5"/>
<path d="M260.1 253.7 L260.1 256.1" stroke="#888" stroke-width="0.5"/>
<path d="M261.3 253.7 L261.3 256.1" stroke="#888" stroke-width="0.5"/>
<path d="M262.6 253.7 L262.6 256.1" stroke="#888" stroke-width="0.5"/>
<path d="M263.8 253.7 L263.8 256.1" stroke="#888" stroke-width="0.5"/>
<path d="M265.1 253.7 L265.1 257.1" stroke="#888" stroke-width="0.5"/>
<path d="M266.3 253.7 L266.3 256.1" stroke="#888" stroke-width="0.5"/>
<path d="M267.6 253.7 L267.6 256.1" stroke="#888" stroke-width="0.5"/>
<path d="M268.8 253.7 L268.8 256.1" stroke="#888" stroke-width="0.5"/>
<path d="M270.1 253.7 L270.1 256.1" stroke="#888" stroke-width="0.5"/>
<path d="M271.3 253.7 L271.3 257.1" stroke="#888" stroke-width="0.5"/>
<path d="M272.6 253.7 L272.6 256.1" stroke="#888" stroke-width="0.5"/>
<path d="M273.8 253.7 L273.8 256.1" stroke="#888" stroke-width="0.5"/>
<path d="M275.1 253.7 L275.1 256.1" stroke="#888" stroke-width="0.5"/>
<path d="M276.3 253.7 L276.3 256.1" stroke="#888" stroke-width="0.5"/>
<path d="M277.6 253.7 L277.6 257.1" stroke="#888" stroke-width="0.5"/>
<path d="M278.8 253.7 L278.8 256.1" stroke="#888" stroke-width="0.5"/>
<path d="M280.1 253.7 L280.1 256.1" stroke="#888" stroke-width="0.5"/>
<path d="M281.3 253.7 L281.3 256.1" stroke="#888" stroke-width="0.5"/>
<path d="M282.6 253.7 L282.6 256.1" stroke="#888" stroke-width="0.5"/>
<path d="M283.8 253.7 L283.8 257.1" stroke="#888" stroke-width="0.5"/>
<path d="M285.1 253.7 L285.1 256.1" stroke="#888" stroke-width="0.5"/>
<path d="M286.3 253.7 L286.3 256.1" stroke="#888" stroke-width="0.5"/>
<path d="M287.6 253.7 L287.6 256.1" stroke="#888" stroke-width="0.5"/>
<path d="M288.8 253.7 L288.8 256.1" stroke="#888" stroke-width="0.5"/>
<path d="M290.1 253.7 L290.1 257.1" stroke="#888" stroke-width="0.5"/>
<path d="M291.3 253.7 L291.3 256.1" stroke="#888" stroke-width="0.5"/>
<path d="M292.6 253.7 L292.6 256.1" stroke="#888" stroke-width="0.5"/>
<path d="M293.8 253.7 L293.8 256.1" stroke="#888" stroke-width="0.5"/>
<path d="M295.1 253.7 L295.1 256.1" stroke="#888" stroke-width="0.5"/>
<path d="M296.3 253.7 L296.3 257.1" stroke="#888" stroke-width="0.5"/>
<path d="M297.6 253.7 L297.6 256.1" stroke="#888" stroke-width="0.5"/>
<path d="M298.8 253.7 L298.8 256.1" stroke="#888" stroke-width="0.5"/>
<path d="M300.1 253.7 L300.1 256.1" stroke="#888" stroke-width="0.5"/>
<path d="M301.3 253.7 L301.3 256.1" stroke="#888" stroke-width="0.5"/>
<path d="M302.6 253.7 L302.6 257.1" stroke="#888" stroke-width="0.5"/>
<path d="M303.8 253.7 L303.8 256.1" stroke="#888" stroke-width="0.5"/>
<path d="M305.1 253.7 L305.1 256.1" stroke="#888" stroke-width="0.5"/>
<path d="M306.3 253.7 L306.3 256.1" stroke="#888" stroke-width="0.5"/>
<path d="M307.6 253.7 L307.6 256.1" stroke="#888" stroke-width="0.5"/>
<path d="M308.8 253.7 L308.8 257.1" stroke="#888" stroke-width="0.5"/>
<path d="M310.1 253.7 L310.1 256.1" stroke="#888" stroke-width="0.5"/>
<path d="M311.3 253.7 L311.3 256.1" stroke="#888" stroke-width="0.5"/>
<path d="M312.6 253.7 L312.6 256.1" stroke="#888" stroke-width="0.5"/>
<path d="M313.8 253.7 L313.8 256.1" stroke="#888" stroke-width="0.5"/>
<path d="M315.1 253.7 L315.1 257.1" stroke="#888" stroke-width="0.5"/>
<path d="M316.3 253.7 L316.3 256.1" stroke="#888" stroke-width="0.5"/>
<path d="M317.6 253.7 L317.6 256.1" stroke="#888" stroke-width="0.5"/>
<path d="M318.8 253.7 L318.8 256.1" stroke="#888" stroke-width="0.5"/>
<path d="M320.1 253.7 L320.1 256.1" stroke="#888" stroke-width="0.5"/>
<path d="M321.3 253.7 L321.3 257.1" stroke="#888" stroke-width="0.5"/>
<path d="M322.6 253.7 L322.6 256.1" stroke="#888" stroke-width="0.5"/>
<path d="M323.8 253.7 L323.8 256.1" stroke="#888" stroke-width="0.5"/>
<path d="M325.1 253.7 L325.1 256.1" stroke="#888" stroke-width="0.5"/>
<path d="M326.3 253.7 L326.3 256.1" stroke="#888" stroke-width="0.5"/>
<path d="M327.6 253.7 L327.6 257.1" stroke="#888" stroke-width="0.5"/>
<path d="M328.8 253.7 L328.8 256.1" stroke="#888" stroke-width="0.5"/>
<path d="M330.1 253.7 L330.1 256.1" stroke="#888" stroke-width="0.5"/>
<path d="M331.3 253.7 L331.3 256.1" stroke="#888" stroke-width="0.5"/>
<path d="M332.6 253.7 L332.6 256.1" stroke="#888" stroke-width="0.5"/>
<path d="M333.8 253.7 L333.8 257.1" stroke="#888" stroke-width="0.5"/>
<path d="M334.2 253.2 L334.2 258.2" stroke="#444" stroke-width="0.9"/>
<g font-family="Liberation Sans, sans-serif" font-size="6.6" fill="#555">
<text x="217.5" y="265.4" textLength="18.5" lengthAdjust="spacingAndGlyphs">2000</text><text x="260.3" y="265.4" textLength="4" lengthAdjust="spacingAndGlyphs">0</text><text x="283.7" y="265.4" textLength="23.3" lengthAdjust="spacingAndGlyphs">-2000</text>
</g>
<text x="208.8" y="276.2" font-family="Liberation Sans, sans-serif" font-size="6.8" fill="#333" stroke="#333" stroke-width="0.25" textLength="103" lengthAdjust="spacingAndGlyphs">RELATIVE FREQUENCY (CM⁻¹)</text>
<text x="385.9" y="51.7" font-family="Liberation Sans, sans-serif" font-size="11" letter-spacing="0.6" fill="#000">2122</text>
<path d="M396.5 60.2 L396.5 65.9" stroke="#000" stroke-width="3.1"/><path d="M393.6 65.4 L399.4 65.4 L396.5 69.8 Z" fill="#000" stroke="#000" stroke-width="0.6" stroke-linejoin="round"/>
<path d="M396.4 93.9 L396.4 71.7" stroke="#333" stroke-width="1"/>
<path d="M397 93.6 L411 93.4" stroke="#bbb" stroke-width="0.8"/>
<path d="M410.5 92.1 L410.9 92.2 L411.4 92.2 L411.8 92.1 L412.3 90.8 L412.7 92.2 L413.2 91.8 L413.6 91.9 L414.1 92.1 L414.5 91.9 L415 91.9 L415.4 91.9 L415.9 91.7 L416.3 90.2 L416.8 91.7 L417.2 90.1 L417.7 90.5 L418.1 91.6 L418.6 91.7 L419 91.4 L419.5 91.4 L419.9 91.5 L420.4 91.3 L420.8 91.2 L421.3 89.5 L421.7 89.9 L422.2 91.2 L422.6 89.8 L423.1 90.7 L423.5 91 L424 90.9 L424.4 90.5 L424.9 90.9 L425.3 89.7 L425.8 90.8 L426.2 90.4 L426.7 90.5 L427.1 88.6 L427.6 89 L428 88.5 L428.5 89.4 L428.9 88.2 L429.4 88.3 L429.8 88.7 L430.3 89.6 L430.7 89.4 L431.2 89.4 L431.6 89.4 L432.1 87.8 L432.5 89.7 L433 89.6 L433.4 89.1 L433.9 87.1 L434.3 88.4 L434.8 89 L435.2 89 L435.7 89.1 L436.1 88.7 L436.6 88.4 L437 88.4 L437.5 88.5 L437.9 88.4 L438.4 88.3 L438.8 88.1 L439.3 86.1 L439.7 86.1 L440.2 88.3 L440.6 88.2 L441.1 87.7 L441.5 87.6 L442 85.4 L442.4 86.4 L442.9 86 L443.3 86.1 L443.8 87.2 L444.2 86.3 L444.7 86.1 L445.1 86.1 L445.6 85.8 L446 85.3 L446.5 85.8 L446.9 85 L447.4 83.9 L447.8 85.5 L448.3 85.3 L448.7 85 L449.2 84 L449.6 85 L450.1 85 L450.5 84.4 L451 85 L451.4 83.3 L451.9 81.9 L452.3 82.1 L452.8 84.5 L453.2 82.4 L453.7 85.1 L454.1 84.6 L454.6 84.6 L455 84.6 L455.5 84 L455.9 85.1 L456.4 85.3 L456.8 85.5 L457.3 85.7 L457.7 82.9 L458.2 85.3 L458.6 84.7 L459.1 85.6 L459.5 85.8 L460 86 L460.4 85.8 L460.9 86.2 L461.3 86.5 L461.8 84.5 L462.2 86.1 L462.7 87 L463.1 86.9 L463.6 85.6 L464 85.1 L464.5 85.8 L464.9 87.3 L465.4 86.5 L465.8 85.6 L466.3 87.4 L466.7 84.9 L467.2 86.8 L467.6 88 L468.1 88.1 L468.5 87.9 L469 87.7 L469.4 87.1 L469.9 87 L470.3 87.3 L470.8 88.1 L471.2 87.5 L471.7 87.7 L472.1 88.3 L472.6 88.8 L473 88.3 L473.5 88.5 L473.9 89 L474.4 89.2 L474.8 88.6 L475.3 88.6 L475.7 89.2 L476.2 88.8 L476.6 88.8 L477.1 87.2 L477.5 89.5 L478 87.7 L478.4 88.9 L478.9 89.2 L479.3 89.3 L479.8 88.2 L480.2 88.5 L480.7 89.9 L481.1 89.6 L481.6 87.9 L482 90.1 L482.5 89.6 L482.9 87.7 L483.4 89.5 L483.8 89.8 L484.3 89.9 L484.7 90.1 L485.2 89.6 L485.6 89.5 L486.1 88.4 L486.5 89.6 L487 87.3 L487.4 89.9 L487.9 89.9 L488.3 89.7 L488.8 89.8 L489.2 89.2 L489.7 90.5 L490.1 90.2 L490.6 89.9 L491 90.1 L491.5 90.3 L491.9 89.1 L492.4 90.5 L492.8 90.7 L493.3 88.5 L493.7 90.7 L494.2 90.6 L494.6 90.7 L495.1 88.9 L495.5 90.5 L496 90.3 L496.4 90.4 L496.9 90.5 L496.9 93.5 L496.4 93.8 L496 93.6 L495.5 93.7 L495.1 93.5 L494.6 93.3 L494.2 93.4 L493.7 93.7 L493.3 93.5 L492.8 93.4 L492.4 93.5 L491.9 93.4 L491.5 93.6 L491 93.6 L490.6 93.5 L490.1 93.4 L489.7 93.4 L489.2 93.6 L488.8 93.3 L488.3 93.1 L487.9 93.5 L487.4 93.5 L487 93.1 L486.5 93.3 L486.1 93.2 L485.6 93.2 L485.2 93.3 L484.7 93.3 L484.3 93.2 L483.8 93.4 L483.4 93.3 L482.9 93.1 L482.5 93.2 L482 93.2 L481.6 93.1 L481.1 92.9 L480.7 92.8 L480.2 93 L479.8 92.8 L479.3 92.9 L478.9 92.8 L478.4 92.6 L478 92.7 L477.5 92.6 L477.1 92.5 L476.6 92.6 L476.2 92.8 L475.7 92.8 L475.3 92.4 L474.8 92.5 L474.4 92.6 L473.9 92.5 L473.5 92.2 L473 92.2 L472.6 92.2 L472.1 92.5 L471.7 92.3 L471.2 92.2 L470.8 92.2 L470.3 92.1 L469.9 91.9 L469.4 91.8 L469 92 L468.5 91.7 L468.1 91.7 L467.6 91.7 L467.2 91.4 L466.7 91.3 L466.3 91.4 L465.8 91.3 L465.4 91.1 L464.9 91.2 L464.5 90.7 L464 90.9 L463.6 90.9 L463.1 90.6 L462.7 90.4 L462.2 90.7 L461.8 90.5 L461.3 90.4 L460.9 90.4 L460.4 90.2 L460 89.9 L459.5 89.8 L459.1 89.7 L458.6 89.4 L458.2 89.5 L457.7 89.4 L457.3 89.3 L456.8 89.4 L456.4 89 L455.9 88.9 L455.5 88.8 L455 89 L454.6 89 L454.1 88.8 L453.7 88.5 L453.2 88.8 L452.8 88.6 L452.3 88.3 L451.9 88.4 L451.4 88.3 L451 88.5 L450.5 88.6 L450.1 88.9 L449.6 88.9 L449.2 88.7 L448.7 88.8 L448.3 89.1 L447.8 89 L447.4 89.1 L446.9 89.2 L446.5 89.2 L446 89.6 L445.6 89.6 L445.1 89.9 L444.7 90.2 L444.2 90.3 L443.8 90.6 L443.3 91.2 L442.9 91.2 L442.4 91.5 L442 91.6 L441.5 91.2 L441.1 91.5 L440.6 91.6 L440.2 91.7 L439.7 91.8 L439.3 91.9 L438.8 91.7 L438.4 91.7 L437.9 92 L437.5 91.8 L437 92.1 L436.6 92.2 L436.1 92 L435.7 92.2 L435.2 92.2 L434.8 92.2 L434.3 92.1 L433.9 92.4 L433.4 92.2 L433 92.3 L432.5 92.4 L432.1 92.6 L431.6 92.4 L431.2 92.5 L430.7 92.5 L430.3 92.5 L429.8 92.7 L429.4 92.7 L428.9 92.6 L428.5 92.7 L428 92.8 L427.6 92.7 L427.1 92.9 L426.7 92.7 L426.2 92.8 L425.8 93.1 L425.3 92.8 L424.9 93 L424.4 93.1 L424 93 L423.5 92.9 L423.1 93.1 L422.6 93.3 L422.2 93.1 L421.7 93.2 L421.3 93.4 L420.8 93.2 L420.4 93.3 L419.9 93.4 L419.5 93.5 L419 93.4 L418.6 93.4 L418.1 93.6 L417.7 93.5 L417.2 93.4 L416.8 93.5 L416.3 93.6 L415.9 93.7 L415.4 93.6 L415 93.7 L414.5 93.7 L414.1 93.6 L413.6 93.7 L413.2 93.7 L412.7 93.7 L412.3 93.6 L411.8 93.7 L411.4 93.8 L410.9 93.8 L410.5 93.8Z" fill="#1a1a1a" stroke="#1a1a1a" stroke-width="0.5"/>
<path d="M404.6 92.5 L405.3 91.5 L406.1 92.5 Z" fill="#999" stroke="#999" stroke-width="0.5599999999999999"/>
<path d="M409.1 92.5 L409.9 90 L410.6 92.5 Z" fill="#999" stroke="#999" stroke-width="0.5599999999999999"/>
<path d="M409.9 92.5 L410.6 74 L411.4 92.5 Z" fill="#aaa" stroke="#aaa" stroke-width="0.5599999999999999"/>
<path d="M413.6 92.5 L414.4 71 L415.1 92.5 Z" fill="#555" stroke="#555" stroke-width="0.7"/>
<path d="M419.4 92.5 L420.2 82.5 L420.9 92.5 Z" fill="#777" stroke="#777" stroke-width="0.7"/>
<path d="M422.9 92.5 L423.6 78.6 L424.4 92.5 Z" fill="#555" stroke="#555" stroke-width="0.77"/>
<path d="M427.4 92.5 L428.2 64.1 L428.9 92.5 Z" fill="#444" stroke="#444" stroke-width="0.77"/>
<path d="M432.1 92.5 L432.8 55.7 L433.6 92.5 Z" fill="#555" stroke="#555" stroke-width="0.84"/>
<path d="M434.2 92.5 L435 80 L435.8 92.5 Z" fill="#555" stroke="#555" stroke-width="0.7"/>
<path d="M438.1 92.5 L438.9 82 L439.6 92.5 Z" fill="#777" stroke="#777" stroke-width="0.63"/>
<path d="M440.4 92.5 L441.2 78.6 L441.9 92.5 Z" fill="#666" stroke="#666" stroke-width="0.7"/>
<path d="M441.2 92.5 L442 77 L442.8 92.5 Z" fill="#777" stroke="#777" stroke-width="0.63"/>
<path d="M445.8 92.5 L446.5 67.9 L447.2 92.5 Z" fill="#444" stroke="#444" stroke-width="0.77"/>
<path d="M448.2 92.5 L449 76 L449.8 92.5 Z" fill="#666" stroke="#666" stroke-width="0.7"/>
<path d="M450.4 92.5 L451.1 66.4 L451.9 92.5 Z" fill="#555" stroke="#555" stroke-width="0.77"/>
<path d="M452.2 92.5 L453 72.5 L453.8 92.5 Z" fill="#555" stroke="#555" stroke-width="0.7"/>
<path d="M455.2 92.5 L456 78 L456.8 92.5 Z" fill="#666" stroke="#666" stroke-width="0.63"/>
<path d="M459.6 92.5 L460.3 77.9 L461.1 92.5 Z" fill="#555" stroke="#555" stroke-width="0.7"/>
<path d="M463.4 92.5 L464.1 81.7 L464.9 92.5 Z" fill="#555" stroke="#555" stroke-width="0.7"/>
<path d="M466.8 92.5 L467.5 84 L468.2 92.5 Z" fill="#666" stroke="#666" stroke-width="0.63"/>
<path d="M470.2 92.5 L471 80.1 L471.8 92.5 Z" fill="#555" stroke="#555" stroke-width="0.7"/>
<path d="M474.9 92.5 L475.6 86.2 L476.4 92.5 Z" fill="#666" stroke="#666" stroke-width="0.63"/>
<path d="M483.2 92.5 L484 86.2 L484.8 92.5 Z" fill="#777" stroke="#777" stroke-width="0.63"/>
<text x="373.6" y="128.9" font-family="Liberation Sans, sans-serif" font-size="11" letter-spacing="0.6" fill="#000">2570</text>
<path d="M388.6 136.1 L388.6 141.2" stroke="#000" stroke-width="3.1"/><path d="M385.7 140.7 L391.5 140.7 L388.6 145.1 Z" fill="#000" stroke="#000" stroke-width="0.6" stroke-linejoin="round"/>
<path d="M385.3 147.2 L385.7 147.4 L386.1 147.1 L386.5 147.2 L386.9 147.3 L387.3 147.3 L387.7 147.3 L388.1 147.2 L388.5 147.1 L388.9 147.2 L389.3 147.1 L389.7 147 L390.1 147.1 L390.5 147.2 L390.9 147.2 L391.3 147.2 L391.7 147 L392.1 146.3 L392.5 147.2 L392.9 147 L393.3 147.1 L393.7 147.1 L394.1 146.4 L394.5 146.9 L394.9 147.1 L395.3 146.9 L395.7 147 L396.1 147.1 L396.5 147.2 L396.9 147.1 L397.3 146.9 L397.7 146.9 L398.1 147.1 L398.5 147.2 L398.9 146.9 L399.3 146.4 L399.7 147 L400.1 146.6 L400.5 146.9 L400.9 147.1 L401.3 147.1 L401.7 147.1 L402.1 147 L402.5 146.9 L402.9 146.9 L403.3 147 L403.7 146.8 L404.1 146.2 L404.5 147 L404.9 146.5 L405.3 146.9 L405.7 145.7 L406.1 146.8 L406.5 145.8 L406.9 146.9 L407.3 145.8 L407.7 147 L408.1 146.9 L408.5 146.9 L408.9 146.9 L409.3 146.9 L409.7 146.9 L410.1 145.8 L410.5 146.8 L410.9 146.8 L411.3 146.9 L411.7 146.8 L412.1 146.8 L412.5 146.7 L412.9 146.8 L413.3 146.8 L413.7 146.9 L414.1 146.9 L414.5 146.7 L414.9 146.9 L415.3 146.7 L415.7 146.8 L416.1 145.4 L416.5 146.6 L416.9 146.6 L417.3 146.6 L417.7 146.7 L418.1 146.8 L418.5 146.6 L418.9 145.6 L419.3 146.5 L419.7 146.8 L420.1 146.6 L420.5 146.7 L420.9 146.6 L421.3 146.5 L421.7 146.6 L422.1 146.6 L422.5 146.8 L422.9 146.5 L423.3 146.5 L423.7 146.8 L424.1 146.7 L424.5 146.5 L424.9 146.7 L425.3 146.4 L425.7 146.6 L426.1 146.3 L426.5 145.7 L426.9 144.6 L427.3 141.8 L427.7 141.3 L428.1 139 L428.5 138.3 L428.9 138.3 L429.3 135.6 L429.7 135.9 L430.1 134.4 L430.5 131.1 L430.9 128.8 L431.3 128.8 L431.7 126.7 L432.1 125.4 L432.5 128.7 L432.9 127.9 L433.3 131.2 L433.7 130.2 L434.1 133.3 L434.5 131.7 L434.9 132.4 L435.3 132.7 L435.7 130.3 L436.1 131.6 L436.5 132.3 L436.9 130.8 L437.3 130.2 L437.7 132 L438.1 133.7 L438.5 133 L438.9 135.3 L439.3 135.4 L439.7 136.9 L440.1 136.7 L440.5 137 L440.9 135.8 L441.3 135.2 L441.7 135.9 L442.1 135.2 L442.5 134.9 L442.9 134.7 L443.3 133.9 L443.7 135.6 L444.1 136.3 L444.5 135.4 L444.9 135.7 L445.3 131 L445.7 130.5 L446.1 127.1 L446.5 123.2 L446.9 121.1 L447.3 122 L447.7 120.8 L448.1 119.2 L448.5 118.2 L448.9 114.4 L449.3 113 L449.7 111.5 L450.1 112.6 L450.5 115.2 L450.9 116.6 L451.3 115.7 L451.7 117.4 L452.1 118.1 L452.5 117.1 L452.9 117.2 L453.3 117.3 L453.7 118.7 L454.1 119.3 L454.5 118.3 L454.9 118.8 L455.3 120.8 L455.7 122.3 L456.1 120.3 L456.5 124.4 L456.9 125.5 L457.3 126 L457.7 128.2 L458.1 126.1 L458.5 128 L458.9 127.4 L459.3 127.8 L459.7 130 L460.1 130.3 L460.5 130.6 L460.9 130.7 L461.3 130.4 L461.7 130.9 L462.1 128 L462.5 131.1 L462.9 130.4 L463.3 129.2 L463.7 130.6 L464.1 131.3 L464.5 131.2 L464.9 131.3 L465.3 131.3 L465.7 130.8 L466.1 130.9 L466.5 131.5 L466.9 130.9 L467.3 128.1 L467.7 128.8 L468.1 130.2 L468.5 127.8 L468.9 128.4 L469.3 130 L469.7 129 L470.1 130 L470.5 129.5 L470.9 128.6 L471.3 129.5 L471.7 129.7 L472.1 128.3 L472.5 129.2 L472.9 127.6 L473.3 126.4 L473.7 129 L474.1 126.2 L474.5 127.8 L474.9 129.7 L475.3 129.3 L475.7 129.5 L476.1 131.4 L476.5 131.7 L476.9 131.8 L477.3 131.9 L477.7 132.3 L478.1 133 L478.5 133.5 L478.9 133.7 L479.3 130.3 L479.7 132.5 L480.1 132.1 L480.5 134.3 L480.9 135.2 L481.3 133 L481.7 135.8 L482.1 136.3 L482.5 133 L482.9 135.1 L483.3 133.7 L483.7 134.3 L484.1 135.1 L484.5 136.1 L484.9 136.3 L485.3 137.2 L485.7 136.1 L486.1 134.6 L486.5 134.4 L486.9 134.9 L487.3 134.4 L487.7 135.1 L488.1 137.9 L488.5 137.9 L488.9 137.8 L489.3 135.2 L489.7 138.7 L490.1 138.1 L490.5 138.7 L490.9 137.1 L491.3 138.9 L491.7 138.3 L492.1 138.5 L492.5 139 L492.9 138.1 L493.3 136.8 L493.7 139 L494.1 138.3 L494.5 138.2 L494.9 136.8 L495.3 137.3 L495.7 136.1 L496.1 138.9 L496.5 138.6 L496.9 138.6 L497.3 139.6 L497.7 137 L498.1 139.3 L498.5 139.2 L498.9 139.4 L499.3 139.5 L499.3 144.2 L498.9 143.9 L498.5 143.9 L498.1 144 L497.7 143.8 L497.3 143.8 L496.9 143.9 L496.5 143.7 L496.1 143.4 L495.7 143.7 L495.3 143.4 L494.9 143.6 L494.5 143.2 L494.1 143.2 L493.7 143 L493.3 143.1 L492.9 143 L492.5 143.4 L492.1 143.2 L491.7 143 L491.3 142.8 L490.9 143.2 L490.5 143.1 L490.1 142.9 L489.7 142.5 L489.3 142.5 L488.9 142.4 L488.5 142.3 L488.1 142.4 L487.7 142 L487.3 142.2 L486.9 141.8 L486.5 141.9 L486.1 141.4 L485.7 141.3 L485.3 141.2 L484.9 141.4 L484.5 141.2 L484.1 141.2 L483.7 140.7 L483.3 140.4 L482.9 140.8 L482.5 140.5 L482.1 140.4 L481.7 140 L481.3 140.1 L480.9 139.6 L480.5 139.3 L480.1 139.1 L479.7 138.7 L479.3 138.2 L478.9 137.9 L478.5 137.7 L478.1 137 L477.7 136.8 L477.3 136.6 L476.9 135.9 L476.5 135.9 L476.1 135.8 L475.7 135.3 L475.3 135 L474.9 134.3 L474.5 134.1 L474.1 133.5 L473.7 134 L473.3 133.5 L472.9 134 L472.5 134.2 L472.1 133.8 L471.7 134.3 L471.3 134 L470.9 134.2 L470.5 134.7 L470.1 134.4 L469.7 134.7 L469.3 135 L468.9 135 L468.5 134.8 L468.1 134.8 L467.7 135.2 L467.3 135.3 L466.9 135.3 L466.5 135.3 L466.1 135.7 L465.7 135.6 L465.3 135.5 L464.9 135.5 L464.5 135.2 L464.1 134.9 L463.7 134.9 L463.3 134.8 L462.9 134.7 L462.5 135 L462.1 134.8 L461.7 134.6 L461.3 134.7 L460.9 134.4 L460.5 134.4 L460.1 134.2 L459.7 134 L459.3 133.2 L458.9 133 L458.5 132.7 L458.1 132.2 L457.7 131.9 L457.3 131.1 L456.9 129.6 L456.5 128.3 L456.1 127.3 L455.7 125.7 L455.3 124.9 L454.9 123.9 L454.5 123.9 L454.1 123 L453.7 122.5 L453.3 122 L452.9 121.5 L452.5 120.8 L452.1 121.4 L451.7 122.2 L451.3 122 L450.9 120 L450.5 118.5 L450.1 116.7 L449.7 115.3 L449.3 117.2 L448.9 119.9 L448.5 122.3 L448.1 123.4 L447.7 124.7 L447.3 125.7 L446.9 126.9 L446.5 129.2 L446.1 131.5 L445.7 134.5 L445.3 136.6 L444.9 139.6 L444.5 140.7 L444.1 139.9 L443.7 139.3 L443.3 138.6 L442.9 138.4 L442.5 138.5 L442.1 138.9 L441.7 139 L441.3 139.5 L440.9 140.4 L440.5 140.3 L440.1 141 L439.7 140.7 L439.3 139.7 L438.9 138.7 L438.5 138.3 L438.1 136.8 L437.7 136.7 L437.3 136 L436.9 135.7 L436.5 135.6 L436.1 134.9 L435.7 135.3 L435.3 135.5 L434.9 135.7 L434.5 136.3 L434.1 136.4 L433.7 135.6 L433.3 134.5 L432.9 133.1 L432.5 131.9 L432.1 130.5 L431.7 131.7 L431.3 133.3 L430.9 134.6 L430.5 136.1 L430.1 137.5 L429.7 138.9 L429.3 140.2 L428.9 141.6 L428.5 142.9 L428.1 144 L427.7 145.1 L427.3 146.4 L426.9 146.9 L426.5 147.3 L426.1 147.7 L425.7 147.8 L425.3 147.8 L424.9 147.8 L424.5 147.9 L424.1 147.9 L423.7 147.7 L423.3 147.9 L422.9 147.9 L422.5 147.9 L422.1 147.8 L421.7 147.8 L421.3 147.8 L420.9 147.8 L420.5 147.9 L420.1 147.8 L419.7 147.9 L419.3 147.8 L418.9 148 L418.5 147.9 L418.1 147.8 L417.7 147.9 L417.3 147.9 L416.9 147.9 L416.5 147.8 L416.1 147.9 L415.7 148 L415.3 148 L414.9 147.8 L414.5 147.8 L414.1 148 L413.7 148 L413.3 147.9 L412.9 147.9 L412.5 148 L412.1 147.9 L411.7 148 L411.3 147.9 L410.9 148 L410.5 148 L410.1 147.9 L409.7 147.9 L409.3 148 L408.9 148.1 L408.5 148 L408.1 148 L407.7 148.1 L407.3 147.9 L406.9 148.1 L406.5 148 L406.1 148.1 L405.7 148 L405.3 148 L404.9 148 L404.5 148.1 L404.1 147.9 L403.7 148.1 L403.3 148 L402.9 148 L402.5 148.1 L402.1 148.1 L401.7 148 L401.3 148.1 L400.9 148 L400.5 148.2 L400.1 148.2 L399.7 148 L399.3 148.1 L398.9 148.2 L398.5 148.1 L398.1 148 L397.7 148.1 L397.3 148.2 L396.9 148.2 L396.5 148.2 L396.1 148.1 L395.7 148.1 L395.3 148.2 L394.9 148.1 L394.5 148.1 L394.1 148.2 L393.7 148.1 L393.3 148.1 L392.9 148.2 L392.5 148.2 L392.1 148.2 L391.7 148.3 L391.3 148.2 L390.9 148.3 L390.5 148.2 L390.1 148.3 L389.7 148.2 L389.3 148.1 L388.9 148.2 L388.5 148.2 L388.1 148.2 L387.7 148.3 L387.3 148.2 L386.9 148.3 L386.5 148.3 L386.1 148.2 L385.7 148.4 L385.3 148.2Z" fill="#111" stroke="#111" stroke-width="0.5"/>
<path d="M406.8 147.8 L406.8 138.5" stroke="#444" stroke-width="0.9"/>
<path d="M410.7 147.8 L410.7 144.5" stroke="#444" stroke-width="0.9"/>
<path d="M414.6 147.8 L414.6 140" stroke="#444" stroke-width="0.9"/>
<path d="M418.5 147.8 L418.5 143.5" stroke="#444" stroke-width="0.9"/>
<path d="M421.4 147.8 L421.4 141.8" stroke="#444" stroke-width="0.9"/>
<path d="M424.3 147.8 L424.3 139" stroke="#444" stroke-width="0.9"/>
<path d="M426.2 147.8 L426.2 138" stroke="#444" stroke-width="0.9"/>
<text x="373.6" y="170.8" font-family="Liberation Sans, sans-serif" font-size="11" letter-spacing="0.6" fill="#000">2867</text>
<path d="M384 179.8 L384 185.8" stroke="#000" stroke-width="3.1"/><path d="M381.1 185.3 L386.9 185.3 L384 189.7 Z" fill="#000" stroke="#000" stroke-width="0.6" stroke-linejoin="round"/>
<path d="M382.3 194.2 L382.7 192.9 L383.1 194.7 L383.5 194.2 L383.9 194.2 L384.3 194.4 L384.7 194.7 L385.1 194.6 L385.5 194.3 L385.9 194.6 L386.3 194.3 L386.7 194.5 L387.1 194.4 L387.5 194.4 L387.9 194.5 L388.3 194.5 L388.7 192.9 L389.1 194.6 L389.5 194.2 L389.9 194.1 L390.3 194.6 L390.7 194.4 L391.1 194.5 L391.5 194.3 L391.9 193.3 L392.3 194 L392.7 194.6 L393.1 194.3 L393.5 194.4 L393.9 192.7 L394.3 194.5 L394.7 194.5 L395.1 194.3 L395.5 194 L395.9 193.9 L396.3 193.9 L396.7 193.4 L397.1 193.6 L397.5 194.3 L397.9 194.2 L398.3 194.1 L398.7 194 L399.1 194 L399.5 193.9 L399.9 193.9 L400.3 194.4 L400.7 194.3 L401.1 194.1 L401.5 193 L401.9 193.9 L402.3 194.3 L402.7 194.1 L403.1 193.2 L403.5 194 L403.9 194.2 L404.3 194 L404.7 193.2 L405.1 193.3 L405.5 193.7 L405.9 193.9 L406.3 194.2 L406.7 193.1 L407.1 194.3 L407.5 194.2 L407.9 193.8 L408.3 194.1 L408.7 193.9 L409.1 194.1 L409.5 193.6 L409.9 193.9 L410.3 194 L410.7 193.6 L411.1 193.6 L411.5 193.9 L411.9 193.4 L412.3 193.4 L412.7 192.7 L413.1 193.9 L413.5 193.7 L413.9 193.5 L414.3 193.6 L414.7 193.9 L415.1 193.3 L415.5 193.7 L415.9 193.7 L416.3 193.3 L416.7 193.6 L417.1 193.2 L417.5 193.7 L417.9 193.5 L418.3 191.6 L418.7 193.2 L419.1 192.7 L419.5 193.4 L419.9 193.1 L420.3 193 L420.7 193.2 L421.1 192.5 L421.5 192.8 L421.9 191.4 L422.3 192.1 L422.7 191.5 L423.1 191.3 L423.5 191.5 L423.9 191 L424.3 191.4 L424.7 189.8 L425.1 190.6 L425.5 190.8 L425.9 189.1 L426.3 189.8 L426.7 190.3 L427.1 190 L427.5 187 L427.9 187.9 L428.3 185.8 L428.7 184.4 L429.1 185.9 L429.5 184.5 L429.9 184.8 L430.3 184.3 L430.7 181.9 L431.1 182.3 L431.5 181.7 L431.9 179.7 L432.3 181 L432.7 179.4 L433.1 180.3 L433.5 180.1 L433.9 179.6 L434.3 180.2 L434.7 179.9 L435.1 180.1 L435.5 180.9 L435.9 181.2 L436.3 181.6 L436.7 181.4 L437.1 181.9 L437.5 181.3 L437.9 181.8 L438.3 180.3 L438.7 182.2 L439.1 182 L439.5 181.6 L439.9 179.7 L440.3 181.8 L440.7 180 L441.1 181.8 L441.5 181.4 L441.9 181.2 L442.3 179.4 L442.7 181.5 L443.1 180.7 L443.5 180.4 L443.9 180.2 L444.3 179.5 L444.7 177.2 L445.1 177.7 L445.5 177.4 L445.9 173.6 L446.3 176.4 L446.7 173.5 L447.1 174.5 L447.5 171 L447.9 171.1 L448.3 169.1 L448.7 168.3 L449.1 167.5 L449.5 166.3 L449.9 165.1 L450.3 164.8 L450.7 163.6 L451.1 163.7 L451.5 162.3 L451.9 161.9 L452.3 162 L452.7 162 L453.1 161.9 L453.5 161.9 L453.9 161.9 L454.3 161.3 L454.7 158.7 L455.1 160.9 L455.5 161.3 L455.9 160.8 L456.3 160.9 L456.7 158.7 L457.1 161.5 L457.5 161.5 L457.9 162.1 L458.3 162.5 L458.7 160.7 L459.1 163.6 L459.5 164.6 L459.9 164.6 L460.3 163.1 L460.7 164.9 L461.1 166.2 L461.5 167.8 L461.9 168 L462.3 167.4 L462.7 168.7 L463.1 170.3 L463.5 170.4 L463.9 171.3 L464.3 171.9 L464.7 171.9 L465.1 171.2 L465.5 169.9 L465.9 169.2 L466.3 170.6 L466.7 171.4 L467.1 170.7 L467.5 170.1 L467.9 168 L468.3 170.1 L468.7 168.7 L469.1 169.4 L469.5 169 L469.9 169.3 L470.3 167.9 L470.7 167 L471.1 168.9 L471.5 167.5 L471.9 169.6 L472.3 166.2 L472.7 169.4 L473.1 169.3 L473.5 166.4 L473.9 169 L474.3 169.2 L474.7 169.8 L475.1 170.6 L475.5 170.8 L475.9 168.8 L476.3 172.2 L476.7 173 L477.1 172.7 L477.5 173.5 L477.9 174.2 L478.3 174.7 L478.7 174.7 L479.1 175.4 L479.5 175.8 L479.9 175.8 L480.3 175.7 L480.7 176.8 L481.1 176.5 L481.5 177.3 L481.9 178.1 L482.3 177.6 L482.7 177.9 L483.1 178.3 L483.5 178.8 L483.9 179 L484.3 179.4 L484.7 180.2 L485.1 180.9 L485.5 180.6 L485.9 181.5 L486.3 181.5 L486.7 181.6 L487.1 181 L487.5 181.2 L487.9 179.7 L488.3 180.2 L488.7 181.7 L489.1 180.2 L489.5 182 L489.9 183 L490.3 183.2 L490.7 182.6 L491.1 182.9 L491.5 183 L491.9 182.3 L492.3 180.8 L492.7 183.6 L493.1 183.7 L493.5 180.5 L493.9 183 L494.3 184.5 L494.7 183.7 L495.1 182.6 L495.5 185.2 L495.9 185.5 L496.3 182.5 L496.7 185.1 L497.1 185.8 L497.5 182.7 L497.9 186.3 L498.3 186 L498.7 186 L499.1 186.2 L499.5 186.8 L499.9 186.5 L499.9 191.5 L499.5 191.7 L499.1 191.2 L498.7 191.4 L498.3 191.1 L497.9 190.7 L497.5 190.5 L497.1 190.4 L496.7 190.1 L496.3 190 L495.9 189.8 L495.5 190 L495.1 189.9 L494.7 189.7 L494.3 189.1 L493.9 189.1 L493.5 188.7 L493.1 188.6 L492.7 188.4 L492.3 188.6 L491.9 188.5 L491.5 188.2 L491.1 188.1 L490.7 187.9 L490.3 187.7 L489.9 187.3 L489.5 187.3 L489.1 187.1 L488.7 186.8 L488.3 187.2 L487.9 186.7 L487.5 186.8 L487.1 186.4 L486.7 186.5 L486.3 186.3 L485.9 186 L485.5 186 L485.1 185.4 L484.7 185.3 L484.3 185 L483.9 184.1 L483.5 184 L483.1 183.7 L482.7 183.2 L482.3 182.7 L481.9 182.4 L481.5 182.3 L481.1 181.7 L480.7 181.5 L480.3 180.9 L479.9 180.5 L479.5 180.2 L479.1 180.3 L478.7 179.8 L478.3 179.2 L477.9 179 L477.5 178.3 L477.1 178.2 L476.7 177.3 L476.3 177.2 L475.9 176.3 L475.5 175.9 L475.1 175.2 L474.7 174.9 L474.3 174.4 L473.9 174 L473.5 173.6 L473.1 174.1 L472.7 174.2 L472.3 174.2 L471.9 174.3 L471.5 174 L471.1 174.3 L470.7 174.2 L470.3 174.4 L469.9 174.6 L469.5 174.8 L469.1 174.6 L468.7 174.8 L468.3 175.2 L467.9 175.1 L467.5 175.4 L467.1 175.5 L466.7 175.8 L466.3 176 L465.9 176.1 L465.5 176.5 L465.1 176.2 L464.7 176.5 L464.3 176.9 L463.9 176.5 L463.5 175.6 L463.1 174.9 L462.7 174.6 L462.3 173.5 L461.9 173.2 L461.5 172.5 L461.1 171.5 L460.7 171.2 L460.3 170.6 L459.9 169.9 L459.5 169.3 L459.1 169 L458.7 168 L458.3 167.6 L457.9 167.4 L457.5 166.5 L457.1 166.5 L456.7 165.6 L456.3 165.3 L455.9 165.7 L455.5 165.6 L455.1 166 L454.7 165.9 L454.3 166.1 L453.9 166.6 L453.5 166.7 L453.1 166.8 L452.7 166.9 L452.3 166.8 L451.9 167.3 L451.5 167.5 L451.1 167.9 L450.7 168.6 L450.3 169.3 L449.9 170.2 L449.5 171.4 L449.1 172.1 L448.7 172.6 L448.3 173.8 L447.9 175.6 L447.5 177.1 L447.1 178.9 L446.7 180.5 L446.3 180.9 L445.9 181.2 L445.5 182.2 L445.1 182.4 L444.7 183.4 L444.3 183.8 L443.9 184.5 L443.5 184.9 L443.1 185.9 L442.7 186.3 L442.3 186 L441.9 186.1 L441.5 186.2 L441.1 186 L440.7 186.4 L440.3 185.9 L439.9 186.4 L439.5 186 L439.1 186.4 L438.7 186 L438.3 186 L437.9 186 L437.5 186.3 L437.1 186 L436.7 186.2 L436.3 185.8 L435.9 185.3 L435.5 185.2 L435.1 184.5 L434.7 184.6 L434.3 184.3 L433.9 184.3 L433.5 184.2 L433.1 184.9 L432.7 185.4 L432.3 185.6 L431.9 185.5 L431.5 186.1 L431.1 186.6 L430.7 187.2 L430.3 188 L429.9 188.2 L429.5 188.9 L429.1 190 L428.7 190.4 L428.3 191.3 L427.9 192.1 L427.5 192.5 L427.1 193.1 L426.7 193.2 L426.3 193.2 L425.9 193.6 L425.5 193.8 L425.1 193.6 L424.7 194.3 L424.3 194.3 L423.9 194.4 L423.5 194.3 L423.1 194.7 L422.7 194.6 L422.3 194.6 L421.9 194.8 L421.5 194.9 L421.1 195.1 L420.7 195.1 L420.3 195.4 L419.9 195.4 L419.5 195.7 L419.1 195.4 L418.7 195.5 L418.3 195.7 L417.9 195.6 L417.5 195.6 L417.1 195.5 L416.7 195.7 L416.3 195.9 L415.9 195.7 L415.5 195.8 L415.1 195.6 L414.7 195.9 L414.3 195.6 L413.9 195.7 L413.5 195.7 L413.1 195.7 L412.7 195.9 L412.3 195.8 L411.9 196 L411.5 195.9 L411.1 196 L410.7 196.1 L410.3 195.8 L409.9 196.1 L409.5 196.1 L409.1 195.8 L408.7 196 L408.3 196.2 L407.9 196.2 L407.5 196 L407.1 196.2 L406.7 196.3 L406.3 196.3 L405.9 196.1 L405.5 196.2 L405.1 196.1 L404.7 196.3 L404.3 196.3 L403.9 196.2 L403.5 196.1 L403.1 196.4 L402.7 196.2 L402.3 196.2 L401.9 196.3 L401.5 196.2 L401.1 196.3 L400.7 196.4 L400.3 196.3 L399.9 196.1 L399.5 196.3 L399.1 196.1 L398.7 196.2 L398.3 196.1 L397.9 196.1 L397.5 196.2 L397.1 196.3 L396.7 196.4 L396.3 196.2 L395.9 196.4 L395.5 196.2 L395.1 196.5 L394.7 196.3 L394.3 196.2 L393.9 196.4 L393.5 196.5 L393.1 196.4 L392.7 196.4 L392.3 196.4 L391.9 196.3 L391.5 196.3 L391.1 196.3 L390.7 196.4 L390.3 196.3 L389.9 196.3 L389.5 196.4 L389.1 196.2 L388.7 196.2 L388.3 196.4 L387.9 196.4 L387.5 196.4 L387.1 196.5 L386.7 196.5 L386.3 196.5 L385.9 196.6 L385.5 196.3 L385.1 196.3 L384.7 196.5 L384.3 196.4 L383.9 196.5 L383.5 196.5 L383.1 196.5 L382.7 196.5 L382.3 196.4Z" fill="#111" stroke="#111" stroke-width="0.5"/>
<text x="370" y="222.6" font-family="Liberation Sans, sans-serif" font-size="11" letter-spacing="0.6" fill="#000">3068</text>
<path d="M380.8 231.6 L380.8 238" stroke="#000" stroke-width="3.1"/><path d="M377.9 237.5 L383.7 237.5 L380.8 241.9 Z" fill="#000" stroke="#000" stroke-width="0.6" stroke-linejoin="round"/>
<path d="M377.2 247.1 L377.6 247.1 L378.1 247.1 L378.5 247.1 L379 247.1 L379.4 247 L379.9 247 L380.3 247 L380.8 247 L381.2 246.9 L381.7 247 L382.1 247 L382.6 247 L383 246.9 L383.5 247 L383.9 246.9 L384.4 246.9 L384.8 246.9 L385.3 246.9 L385.7 246.9 L386.2 246.9 L386.6 246.8 L387.1 246.9 L387.5 246.9 L388 246.9 L388.4 246.8 L388.9 246.9 L389.3 246.8 L389.8 246.8 L390.2 246.8 L390.7 246.8 L391.1 246.7 L391.6 246.7 L392 246.7 L392.5 246.7 L392.9 246.8 L393.4 246.8 L393.8 246.6 L394.3 246.6 L394.7 246.1 L395.2 246.7 L395.6 246.6 L396.1 246.6 L396.5 246.6 L397 246.6 L397.4 246.6 L397.9 246.6 L398.3 246.5 L398.8 246.6 L399.2 246.6 L399.7 246.6 L400.1 246.5 L400.6 246.5 L401 246.5 L401.5 246.4 L401.9 246.4 L402.4 246.3 L402.8 246.4 L403.3 246.3 L403.7 246.3 L404.2 246.3 L404.6 246.2 L405.1 245.3 L405.5 246.2 L406 246.1 L406.4 246.1 L406.9 246 L407.3 246 L407.8 245.9 L408.2 246 L408.7 245.8 L409.1 245.8 L409.6 245.8 L410 245.7 L410.5 245.8 L410.9 245.7 L411.4 245.7 L411.8 245.6 L412.3 245.7 L412.7 245.6 L413.2 245.5 L413.6 245.5 L414.1 245.4 L414.5 245.5 L415 245.3 L415.4 245.3 L415.9 245.4 L416.3 245.2 L416.8 245.2 L417.2 245.1 L417.7 245.1 L418.1 245.1 L418.6 244.9 L419 244.8 L419.5 244.8 L419.9 244.9 L420.4 244.7 L420.8 244.4 L421.3 244.4 L421.7 244.3 L422.2 244.1 L422.6 244 L423.1 243.8 L423.5 243.6 L424 243.5 L424.4 243.3 L424.9 243.2 L425.3 242.6 L425.8 242 L426.2 241.5 L426.7 240.9 L427.1 240.3 L427.6 239.6 L428 239.1 L428.5 238.2 L428.9 235.9 L429.4 237.1 L429.8 236.3 L430.3 235.8 L430.7 235.3 L431.2 234.2 L431.6 233.4 L432.1 233.9 L432.5 233.4 L433 231.2 L433.4 233.2 L433.9 233.2 L434.3 233.6 L434.8 234.1 L435.2 233.2 L435.7 234.5 L436.1 234.7 L436.6 235.1 L437 235.4 L437.5 235.3 L437.9 235.6 L438.4 235.9 L438.8 235.7 L439.3 236.1 L439.7 235.9 L440.2 234.8 L440.6 235.5 L441.1 235.2 L441.5 234.9 L442 234.6 L442.4 234.2 L442.9 233.6 L443.3 232.7 L443.8 231.9 L444.2 230.7 L444.7 229.6 L445.1 228.4 L445.6 227.5 L446 226.5 L446.5 225.5 L446.9 224 L447.4 223.3 L447.8 220.1 L448.3 220.8 L448.7 219.6 L449.2 216.3 L449.6 217.5 L450.1 216.4 L450.5 215.7 L451 215.1 L451.4 215 L451.9 214.2 L452.3 213.9 L452.8 213.3 L453.2 212.9 L453.7 213 L454.1 213.5 L454.6 213.3 L455 213.7 L455.5 213.6 L455.9 213.5 L456.4 214.1 L456.8 211.9 L457.3 214 L457.7 214.4 L458.2 215.2 L458.6 216 L459.1 217.1 L459.5 216.4 L460 219.5 L460.4 219.9 L460.9 220 L461.3 220.6 L461.8 220.6 L462.2 221 L462.7 221.2 L463.1 221.7 L463.6 221.8 L464 222.5 L464.5 222.4 L464.9 222.9 L465.4 220.7 L465.8 222.6 L466.3 222.3 L466.7 222 L467.2 221.7 L467.6 221.5 L468.1 221.7 L468.5 221.4 L469 220.9 L469.4 220.8 L469.9 220.8 L470.3 220.8 L470.8 220.7 L471.2 221 L471.7 221 L472.1 221.3 L472.6 221.7 L473 221.5 L473.5 222.2 L473.9 222.2 L474.4 222.5 L474.8 222.3 L475.3 223 L475.7 223 L476.2 223.4 L476.6 224 L477.1 224.3 L477.5 224.5 L478 225.1 L478.4 223.3 L478.9 225.6 L479.3 225.9 L479.8 226.2 L480.2 227 L480.7 227.3 L481.1 227.5 L481.6 225.7 L482 228.3 L482.5 228.7 L482.9 228.9 L483.4 229.1 L483.8 229.8 L484.3 230.2 L484.7 230.5 L485.2 230.6 L485.6 231.2 L486.1 231.5 L486.5 231.9 L487 231.4 L487.4 232.4 L487.9 232.8 L488.3 231.5 L488.8 233.6 L489.2 234.2 L489.7 234.6 L490.1 234.6 L490.6 234.8 L491 235.2 L491.5 235.3 L491.9 235.2 L492.4 235.6 L492.8 236 L493.3 236.1 L493.7 236.3 L494.2 236.2 L494.6 236.7 L495.1 237.1 L495.5 237.8 L496 238.9 L496.4 239.7 L496.9 240.5 L497.3 241.2 L497.8 242.3 L497.8 245 L497.3 243.8 L496.9 242.9 L496.4 242.1 L496 241.2 L495.5 240.5 L495.1 239.6 L494.6 239.2 L494.2 238.8 L493.7 238.8 L493.3 238.7 L492.8 238.4 L492.4 238.2 L491.9 238.1 L491.5 237.8 L491 237.7 L490.6 237.4 L490.1 237.3 L489.7 237.1 L489.2 236.7 L488.8 236.4 L488.3 236 L487.9 235.6 L487.4 235.3 L487 234.8 L486.5 234.5 L486.1 234.2 L485.6 233.8 L485.2 233.5 L484.7 233.1 L484.3 232.8 L483.8 232.4 L483.4 232 L482.9 231.8 L482.5 231.3 L482 230.9 L481.6 230.7 L481.1 230.2 L480.7 230 L480.2 229.5 L479.8 229.3 L479.3 228.7 L478.9 228.5 L478.4 228.2 L478 227.8 L477.5 227.4 L477.1 226.9 L476.6 226.6 L476.2 226.2 L475.7 226 L475.3 225.5 L474.8 225.2 L474.4 225 L473.9 225 L473.5 224.9 L473 224.6 L472.6 224.5 L472.1 224.1 L471.7 224.1 L471.2 223.7 L470.8 223.6 L470.3 223.5 L469.9 223.3 L469.4 223.6 L469 224 L468.5 224.1 L468.1 224.5 L467.6 224.4 L467.2 224.8 L466.7 225.1 L466.3 225.2 L465.8 225.5 L465.4 225.6 L464.9 225.9 L464.5 225.4 L464 225.1 L463.6 225 L463.1 224.6 L462.7 224.4 L462.2 224.1 L461.8 223.8 L461.3 223.3 L460.9 222.9 L460.4 222.7 L460 222.4 L459.5 221.2 L459.1 220.2 L458.6 219.1 L458.2 218 L457.7 217.3 L457.3 217.2 L456.8 217 L456.4 216.8 L455.9 216.8 L455.5 216.7 L455 216.6 L454.6 216.6 L454.1 216.3 L453.7 216.1 L453.2 216.1 L452.8 216.1 L452.3 216.8 L451.9 217.2 L451.4 217.8 L451 218.2 L450.5 218.8 L450.1 219.2 L449.6 220.3 L449.2 221.4 L448.7 222.6 L448.3 223.5 L447.8 224.8 L447.4 225.9 L446.9 227.1 L446.5 228.2 L446 229.1 L445.6 230.3 L445.1 231.3 L444.7 232.3 L444.2 233.3 L443.8 234.5 L443.3 235.5 L442.9 236.4 L442.4 236.6 L442 237 L441.5 237.4 L441.1 237.8 L440.6 238.3 L440.2 238.6 L439.7 238.5 L439.3 238.6 L438.8 238.3 L438.4 238.2 L437.9 237.9 L437.5 237.8 L437 237.7 L436.6 237.3 L436.1 237.2 L435.7 236.8 L435.2 236.4 L434.8 236.2 L434.3 235.9 L433.9 235.7 L433.4 235.2 L433 235.1 L432.5 235.4 L432.1 236 L431.6 236.4 L431.2 236.8 L430.7 237.1 L430.3 237.7 L429.8 238.1 L429.4 238.9 L428.9 239.5 L428.5 240.2 L428 240.7 L427.6 241.5 L427.1 242 L426.7 242.6 L426.2 243.1 L425.8 243.8 L425.3 244.3 L424.9 244.8 L424.4 244.9 L424 245.1 L423.5 245.2 L423.1 245.3 L422.6 245.4 L422.2 245.5 L421.7 245.7 L421.3 245.8 L420.8 245.9 L420.4 246 L419.9 246.1 L419.5 246.1 L419 246.1 L418.6 246.2 L418.1 246.2 L417.7 246.2 L417.2 246.2 L416.8 246.2 L416.3 246.3 L415.9 246.3 L415.4 246.3 L415 246.4 L414.5 246.3 L414.1 246.4 L413.6 246.4 L413.2 246.5 L412.7 246.5 L412.3 246.5 L411.8 246.6 L411.4 246.6 L410.9 246.6 L410.5 246.7 L410 246.7 L409.6 246.7 L409.1 246.7 L408.7 246.8 L408.2 246.8 L407.8 246.8 L407.3 246.9 L406.9 246.9 L406.4 246.9 L406 247 L405.5 247.1 L405.1 247 L404.6 247.1 L404.2 247.2 L403.7 247.2 L403.3 247.1 L402.8 247.2 L402.4 247.3 L401.9 247.3 L401.5 247.3 L401 247.4 L400.6 247.4 L400.1 247.4 L399.7 247.4 L399.2 247.4 L398.8 247.4 L398.3 247.5 L397.9 247.4 L397.4 247.4 L397 247.5 L396.5 247.5 L396.1 247.5 L395.6 247.5 L395.2 247.5 L394.7 247.5 L394.3 247.5 L393.8 247.6 L393.4 247.6 L392.9 247.6 L392.5 247.6 L392 247.6 L391.6 247.6 L391.1 247.6 L390.7 247.6 L390.2 247.6 L389.8 247.7 L389.3 247.6 L388.9 247.7 L388.4 247.7 L388 247.7 L387.5 247.7 L387.1 247.7 L386.6 247.7 L386.2 247.7 L385.7 247.7 L385.3 247.8 L384.8 247.8 L384.4 247.7 L383.9 247.7 L383.5 247.7 L383 247.8 L382.6 247.8 L382.1 247.8 L381.7 247.8 L381.2 247.8 L380.8 247.8 L380.3 247.8 L379.9 247.8 L379.4 247.9 L379 247.9 L378.5 247.9 L378.1 247.9 L377.6 247.8 L377.2 247.9Z" fill="#222" stroke="#222" stroke-width="0.5"/>
<rect x="345.5" y="254.3" width="160.8" height="2.6" fill="#e2e2e2"/>
<path d="M345.5 254.1 L506.3 254.1" stroke="#777" stroke-width="0.8"/>
<path d="M345.5 254.1 L345.5 257.5" stroke="#888" stroke-width="0.5"/>
<path d="M346.8 254.1 L346.8 256.5" stroke="#888" stroke-width="0.5"/>
<path d="M348 254.1 L348 256.5" stroke="#888" stroke-width="0.5"/>
<path d="M349.2 254.1 L349.2 256.5" stroke="#888" stroke-width="0.5"/>
<path d="M350.5 254.1 L350.5 256.5" stroke="#888" stroke-width="0.5"/>
<path d="M351.8 254.1 L351.8 257.5" stroke="#888" stroke-width="0.5"/>
<path d="M353 254.1 L353 256.5" stroke="#888" stroke-width="0.5"/>
<path d="M354.2 254.1 L354.2 256.5" stroke="#888" stroke-width="0.5"/>
<path d="M355.5 254.1 L355.5 256.5" stroke="#888" stroke-width="0.5"/>
<path d="M356.8 254.1 L356.8 256.5" stroke="#888" stroke-width="0.5"/>
<path d="M358 254.1 L358 257.5" stroke="#888" stroke-width="0.5"/>
<path d="M359.2 254.1 L359.2 256.5" stroke="#888" stroke-width="0.5"/>
<path d="M360.5 254.1 L360.5 256.5" stroke="#888" stroke-width="0.5"/>
<path d="M361.8 254.1 L361.8 256.5" stroke="#888" stroke-width="0.5"/>
<path d="M363 254.1 L363 256.5" stroke="#888" stroke-width="0.5"/>
<path d="M364.2 254.1 L364.2 257.5" stroke="#888" stroke-width="0.5"/>
<path d="M365.5 254.1 L365.5 256.5" stroke="#888" stroke-width="0.5"/>
<path d="M366.8 254.1 L366.8 256.5" stroke="#888" stroke-width="0.5"/>
<path d="M368 254.1 L368 256.5" stroke="#888" stroke-width="0.5"/>
<path d="M369.2 254.1 L369.2 256.5" stroke="#888" stroke-width="0.5"/>
<path d="M370.5 254.1 L370.5 257.5" stroke="#888" stroke-width="0.5"/>
<path d="M371.8 254.1 L371.8 256.5" stroke="#888" stroke-width="0.5"/>
<path d="M373 254.1 L373 256.5" stroke="#888" stroke-width="0.5"/>
<path d="M374.2 254.1 L374.2 256.5" stroke="#888" stroke-width="0.5"/>
<path d="M375.5 254.1 L375.5 256.5" stroke="#888" stroke-width="0.5"/>
<path d="M376.8 254.1 L376.8 257.5" stroke="#888" stroke-width="0.5"/>
<path d="M378 254.1 L378 256.5" stroke="#888" stroke-width="0.5"/>
<path d="M379.2 254.1 L379.2 256.5" stroke="#888" stroke-width="0.5"/>
<path d="M380.5 254.1 L380.5 256.5" stroke="#888" stroke-width="0.5"/>
<path d="M381.8 254.1 L381.8 256.5" stroke="#888" stroke-width="0.5"/>
<path d="M383 254.1 L383 257.5" stroke="#888" stroke-width="0.5"/>
<path d="M384.2 254.1 L384.2 256.5" stroke="#888" stroke-width="0.5"/>
<path d="M385.5 254.1 L385.5 256.5" stroke="#888" stroke-width="0.5"/>
<path d="M386.8 254.1 L386.8 256.5" stroke="#888" stroke-width="0.5"/>
<path d="M388 254.1 L388 256.5" stroke="#888" stroke-width="0.5"/>
<path d="M389.2 254.1 L389.2 257.5" stroke="#888" stroke-width="0.5"/>
<path d="M390.5 254.1 L390.5 256.5" stroke="#888" stroke-width="0.5"/>
<path d="M391.8 254.1 L391.8 256.5" stroke="#888" stroke-width="0.5"/>
<path d="M393 254.1 L393 256.5" stroke="#888" stroke-width="0.5"/>
<path d="M394.2 254.1 L394.2 256.5" stroke="#888" stroke-width="0.5"/>
<path d="M395.5 254.1 L395.5 257.5" stroke="#888" stroke-width="0.5"/>
<path d="M396.8 254.1 L396.8 256.5" stroke="#888" stroke-width="0.5"/>
<path d="M398 254.1 L398 256.5" stroke="#888" stroke-width="0.5"/>
<path d="M399.2 254.1 L399.2 256.5" stroke="#888" stroke-width="0.5"/>
<path d="M400.5 254.1 L400.5 256.5" stroke="#888" stroke-width="0.5"/>
<path d="M401.8 254.1 L401.8 257.5" stroke="#888" stroke-width="0.5"/>
<path d="M403 254.1 L403 256.5" stroke="#888" stroke-width="0.5"/>
<path d="M404.2 254.1 L404.2 256.5" stroke="#888" stroke-width="0.5"/>
<path d="M405.5 254.1 L405.5 256.5" stroke="#888" stroke-width="0.5"/>
<path d="M406.8 254.1 L406.8 256.5" stroke="#888" stroke-width="0.5"/>
<path d="M408 254.1 L408 257.5" stroke="#888" stroke-width="0.5"/>
<path d="M409.2 254.1 L409.2 256.5" stroke="#888" stroke-width="0.5"/>
<path d="M410.5 254.1 L410.5 256.5" stroke="#888" stroke-width="0.5"/>
<path d="M411.8 254.1 L411.8 256.5" stroke="#888" stroke-width="0.5"/>
<path d="M413 254.1 L413 256.5" stroke="#888" stroke-width="0.5"/>
<path d="M414.2 254.1 L414.2 257.5" stroke="#888" stroke-width="0.5"/>
<path d="M415.5 254.1 L415.5 256.5" stroke="#888" stroke-width="0.5"/>
<path d="M416.8 254.1 L416.8 256.5" stroke="#888" stroke-width="0.5"/>
<path d="M418 254.1 L418 256.5" stroke="#888" stroke-width="0.5"/>
<path d="M419.2 254.1 L419.2 256.5" stroke="#888" stroke-width="0.5"/>
<path d="M420.5 254.1 L420.5 257.5" stroke="#888" stroke-width="0.5"/>
<path d="M421.8 254.1 L421.8 256.5" stroke="#888" stroke-width="0.5"/>
<path d="M423 254.1 L423 256.5" stroke="#888" stroke-width="0.5"/>
<path d="M424.2 254.1 L424.2 256.5" stroke="#888" stroke-width="0.5"/>
<path d="M425.5 254.1 L425.5 256.5" stroke="#888" stroke-width="0.5"/>
<path d="M426.8 254.1 L426.8 257.5" stroke="#888" stroke-width="0.5"/>
<path d="M428 254.1 L428 256.5" stroke="#888" stroke-width="0.5"/>
<path d="M429.2 254.1 L429.2 256.5" stroke="#888" stroke-width="0.5"/>
<path d="M430.5 254.1 L430.5 256.5" stroke="#888" stroke-width="0.5"/>
<path d="M431.8 254.1 L431.8 256.5" stroke="#888" stroke-width="0.5"/>
<path d="M433 254.1 L433 257.5" stroke="#888" stroke-width="0.5"/>
<path d="M434.2 254.1 L434.2 256.5" stroke="#888" stroke-width="0.5"/>
<path d="M435.5 254.1 L435.5 256.5" stroke="#888" stroke-width="0.5"/>
<path d="M436.8 254.1 L436.8 256.5" stroke="#888" stroke-width="0.5"/>
<path d="M438 254.1 L438 256.5" stroke="#888" stroke-width="0.5"/>
<path d="M439.2 254.1 L439.2 257.5" stroke="#888" stroke-width="0.5"/>
<path d="M440.5 254.1 L440.5 256.5" stroke="#888" stroke-width="0.5"/>
<path d="M441.8 254.1 L441.8 256.5" stroke="#888" stroke-width="0.5"/>
<path d="M443 254.1 L443 256.5" stroke="#888" stroke-width="0.5"/>
<path d="M444.2 254.1 L444.2 256.5" stroke="#888" stroke-width="0.5"/>
<path d="M445.5 254.1 L445.5 257.5" stroke="#888" stroke-width="0.5"/>
<path d="M446.8 254.1 L446.8 256.5" stroke="#888" stroke-width="0.5"/>
<path d="M448 254.1 L448 256.5" stroke="#888" stroke-width="0.5"/>
<path d="M449.2 254.1 L449.2 256.5" stroke="#888" stroke-width="0.5"/>
<path d="M450.5 254.1 L450.5 256.5" stroke="#888" stroke-width="0.5"/>
<path d="M451.8 254.1 L451.8 257.5" stroke="#888" stroke-width="0.5"/>
<path d="M453 254.1 L453 256.5" stroke="#888" stroke-width="0.5"/>
<path d="M454.2 254.1 L454.2 256.5" stroke="#888" stroke-width="0.5"/>
<path d="M455.5 254.1 L455.5 256.5" stroke="#888" stroke-width="0.5"/>
<path d="M456.8 254.1 L456.8 256.5" stroke="#888" stroke-width="0.5"/>
<path d="M458 254.1 L458 257.5" stroke="#888" stroke-width="0.5"/>
<path d="M459.2 254.1 L459.2 256.5" stroke="#888" stroke-width="0.5"/>
<path d="M460.5 254.1 L460.5 256.5" stroke="#888" stroke-width="0.5"/>
<path d="M461.8 254.1 L461.8 256.5" stroke="#888" stroke-width="0.5"/>
<path d="M463 254.1 L463 256.5" stroke="#888" stroke-width="0.5"/>
<path d="M464.2 254.1 L464.2 257.5" stroke="#888" stroke-width="0.5"/>
<path d="M465.5 254.1 L465.5 256.5" stroke="#888" stroke-width="0.5"/>
<path d="M466.8 254.1 L466.8 256.5" stroke="#888" stroke-width="0.5"/>
<path d="M468 254.1 L468 256.5" stroke="#888" stroke-width="0.5"/>
<path d="M469.2 254.1 L469.2 256.5" stroke="#888" stroke-width="0.5"/>
<path d="M470.5 254.1 L470.5 257.5" stroke="#888" stroke-width="0.5"/>
<path d="M471.8 254.1 L471.8 256.5" stroke="#888" stroke-width="0.5"/>
<path d="M473 254.1 L473 256.5" stroke="#888" stroke-width="0.5"/>
<path d="M474.2 254.1 L474.2 256.5" stroke="#888" stroke-width="0.5"/>
<path d="M475.5 254.1 L475.5 256.5" stroke="#888" stroke-width="0.5"/>
<path d="M476.8 254.1 L476.8 257.5" stroke="#888" stroke-width="0.5"/>
<path d="M478 254.1 L478 256.5" stroke="#888" stroke-width="0.5"/>
<path d="M479.2 254.1 L479.2 256.5" stroke="#888" stroke-width="0.5"/>
<path d="M480.5 254.1 L480.5 256.5" stroke="#888" stroke-width="0.5"/>
<path d="M481.8 254.1 L481.8 256.5" stroke="#888" stroke-width="0.5"/>
<path d="M483 254.1 L483 257.5" stroke="#888" stroke-width="0.5"/>
<path d="M484.2 254.1 L484.2 256.5" stroke="#888" stroke-width="0.5"/>
<path d="M485.5 254.1 L485.5 256.5" stroke="#888" stroke-width="0.5"/>
<path d="M486.8 254.1 L486.8 256.5" stroke="#888" stroke-width="0.5"/>
<path d="M488 254.1 L488 256.5" stroke="#888" stroke-width="0.5"/>
<path d="M489.2 254.1 L489.2 257.5" stroke="#888" stroke-width="0.5"/>
<path d="M490.5 254.1 L490.5 256.5" stroke="#888" stroke-width="0.5"/>
<path d="M491.8 254.1 L491.8 256.5" stroke="#888" stroke-width="0.5"/>
<path d="M493 254.1 L493 256.5" stroke="#888" stroke-width="0.5"/>
<path d="M494.2 254.1 L494.2 256.5" stroke="#888" stroke-width="0.5"/>
<path d="M495.5 254.1 L495.5 257.5" stroke="#888" stroke-width="0.5"/>
<path d="M496.8 254.1 L496.8 256.5" stroke="#888" stroke-width="0.5"/>
<path d="M498 254.1 L498 256.5" stroke="#888" stroke-width="0.5"/>
<path d="M499.2 254.1 L499.2 256.5" stroke="#888" stroke-width="0.5"/>
<path d="M500.5 254.1 L500.5 256.5" stroke="#888" stroke-width="0.5"/>
<path d="M501.8 254.1 L501.8 257.5" stroke="#888" stroke-width="0.5"/>
<path d="M503 254.1 L503 256.5" stroke="#888" stroke-width="0.5"/>
<path d="M504.2 254.1 L504.2 256.5" stroke="#888" stroke-width="0.5"/>
<path d="M505.5 254.1 L505.5 256.5" stroke="#888" stroke-width="0.5"/>
<path d="M506.3 253.6 L506.3 258.6" stroke="#444" stroke-width="0.9"/>
<g font-family="Liberation Sans, sans-serif" font-size="6.6" fill="#555">
<text x="354.5" y="264.6" textLength="18.5" lengthAdjust="spacingAndGlyphs">4000</text><text x="389.5" y="264.6" textLength="19" lengthAdjust="spacingAndGlyphs">2000</text><text x="433" y="264.6" textLength="3.3" lengthAdjust="spacingAndGlyphs">0</text><text x="457" y="264.6" textLength="22.5" lengthAdjust="spacingAndGlyphs">-2000</text>
</g>
<text x="381.3" y="275.2" font-family="Liberation Sans, sans-serif" font-size="6.8" fill="#333" stroke="#333" stroke-width="0.25" textLength="102.5" lengthAdjust="spacingAndGlyphs">RELATIVE  FREQUENCY (CM⁻¹)</text>
<path d="M518.1 59.2 L525 59.2 L525.6 66 L526.3 94 L527 126 L528.2 157 L529.7 190 L530.7 245.2 L537.1 245.2 L521.5 267.7 L506 245.2 L512.3 245.2 L513.3 190 L514.4 157 L515.2 126 L516.2 94 L517 62 Z" fill="#4f81bd" stroke="#3a679e" stroke-width="1.3"/>
<g font-family="Liberation Serif, serif" font-size="16.5" fill="#000">
<text x="188.5" y="297.7" stroke="#000" stroke-width="0.35" textLength="123.5" lengthAdjust="spacingAndGlyphs">S. M. Beck et al.,</text>
<text x="317.3" y="297.7" font-style="italic" textLength="106" lengthAdjust="spacingAndGlyphs">J. Phys. Chem.</text>
<text x="428.8" y="297.7" font-weight="bold" textLength="22.9" lengthAdjust="spacingAndGlyphs">74,</text>
<text x="455.6" y="297.7" textLength="16.6" lengthAdjust="spacingAndGlyphs">43</text>
<text x="479" y="297.7" textLength="47.2" lengthAdjust="spacingAndGlyphs">(1981)</text>
</g>
<path d="M20 479 L692.4 479" stroke="#aaa" stroke-width="1.2"/>
<path d="M29.5 479 L29.5 483.3" stroke="#555" stroke-width="1.1"/>
<path d="M161.5 479 L161.5 483.3" stroke="#555" stroke-width="1.1"/>
<path d="M293.5 479 L293.5 483.3" stroke="#555" stroke-width="1.1"/>
<path d="M425.5 479 L425.5 483.3" stroke="#555" stroke-width="1.1"/>
<path d="M557.5 479 L557.5 483.3" stroke="#555" stroke-width="1.1"/>
<path d="M689.5 479 L689.5 483.3" stroke="#555" stroke-width="1.1"/>
<g font-family="Liberation Sans, sans-serif" font-size="16" fill="#000" stroke="#000" stroke-width="0.55" text-anchor="middle">
<text x="31" y="497.8">32000</text>
<text x="163" y="497.8">33000</text>
<text x="295" y="497.8">34000</text>
<text x="427" y="497.8">35000</text>
<text x="559" y="497.8">36000</text>
<text x="691" y="497.8">37000</text>
</g>
<path d="M20 478.8 L20.6 479.1 L21.2 478.3 L21.8 479.2 L22.4 478.2 L23 478.7 L23.6 479 L24.2 478.6 L24.8 478.8 L25.4 478.9 L26 478.6 L26.6 478 L27.2 477.8 L27.8 477.8 L28.4 477.3 L29 477.6 L29.6 476.4 L30 476.2 L30.2 475.9 L30.8 476.9 L31.4 478 L31.5 477.8 L32 477.5 L32.6 477.9 L33.2 477.6 L33.8 477.7 L34.4 478 L35 478.8 L35.6 477.9 L36 478.3 L36.2 477.9 L36.8 478.8 L37.4 478.2 L38 478.3 L38.6 478.3 L39.2 478.4 L39.8 477.8 L40.4 478.6 L41 478.9 L41.6 478 L42.2 478.9 L42.8 478.8 L43.4 478.6 L44 478.6 L44.6 478.4 L45.2 478.6 L45.8 478.9 L46.4 478.8 L47 478.5 L47.6 478.9 L48.2 477.9 L48.8 478.4 L49.4 477.9 L50 478.7 L50.6 478.7 L51.2 478.5 L51.8 478.1 L52.4 478 L53 478.9 L53.6 478.6 L54.2 478.6 L54.8 478.8 L55.4 478.2 L56 478.8 L56.6 478.6 L57.2 479.1 L57.8 478.8 L58.4 479.1 L59 479 L59.6 478.4 L60 478.6 L60.2 478.9 L60.8 478.2 L61.4 478.4 L62 478.7 L62.6 478.3 L63.2 478.5 L63.8 478.6 L64.4 479 L65 478 L65.6 478.9 L66.2 478 L66.8 478.9 L67.4 478 L68 478.5 L68.6 478.4 L69.2 477.7 L69.8 478.3 L70.4 478 L71 478.4 L71.6 478.2 L72 478.2 L72.2 478.5 L72.8 477.7 L73.4 477.8 L74 477.6 L74.6 477.9 L75.2 477.6 L75.8 477.6 L76 477 L76.4 477 L77 477.4 L77.6 476.5 L78.2 477 L78.8 476.6 L79.4 477 L80 477.2 L80.6 476 L81.2 475.4 L81.8 474.7 L82 474.2 L82.4 474.3 L83 476 L83.6 476.6 L84 477.7 L84.2 477.5 L84.8 477.9 L85.4 477.4 L86 477 L86.6 477.3 L87 476.7 L87.2 476.1 L87.8 472.5 L88.4 470.2 L89 442.2 L89.3 428.3 L89.6 442.1 L90.2 470.2 L90.8 472.7 L91.4 476.6 L91.5 476.7 L92 476.7 L92.6 476.7 L93.2 477.2 L93.8 478 L94.4 477.6 L95 478.2 L95.6 477.5 L96.2 476.8 L96.8 476.2 L97.4 475.8 L98 474.7 L98.6 477.1 L99 478.2 L99.2 478.4 L99.8 478 L100.4 478.4 L101 478 L101.6 478.5 L102.2 478.5 L102.8 478.8 L103.4 477.7 L104 478.7 L104.6 478.6 L105.2 478 L105.8 478.4 L106.4 478.7 L107 478.5 L107.6 478.8 L108.2 478.1 L108.8 478.7 L109.4 478.7 L110 478 L110.6 478.3 L111.2 478.2 L111.8 477.7 L112.4 477.8 L113 478.6 L113.6 478.7 L114.2 477.9 L114.8 478.4 L115.4 478.7 L116 477.8 L116.6 478 L117.2 478.7 L117.8 478.4 L118.4 478.8 L119 478.5 L119.6 478.6 L120 478.3 L120.2 478.5 L120.8 478.7 L121.4 478 L122 477.9 L122.6 478.7 L123.2 477.9 L123.8 478.7 L124.4 477.9 L125 477.9 L125.6 477.7 L126.2 477.8 L126.8 478.8 L127.4 478 L128 478.8 L128.6 477.6 L129.2 478 L129.8 478.3 L130.4 478.7 L131 477.8 L131.6 478 L132.2 478.1 L132.8 477.9 L133.4 477.6 L134 477.9 L134.6 478.3 L135 478.1 L135.2 478 L135.8 478.1 L136.4 477.7 L137 477.7 L137.6 478 L138.2 477.5 L138.8 477.7 L139.4 478.4 L140 478.4 L140.6 478.4 L141.2 477.9 L141.8 478.4 L142.4 477.9 L143 477.4 L143.6 477.8 L144.2 478.4 L144.8 477.6 L145.4 477.6 L146 477.3 L146.6 477.6 L147.2 477.2 L147.8 478.3 L148.4 477.7 L149 477.4 L149.5 477.6 L149.6 476 L150.2 468 L150.6 462.3 L150.8 459.5 L151.2 455 L151.4 458.2 L152 466.5 L152.6 470.5 L153.2 475 L153.5 477.2 L153.8 477.8 L154.4 477.2 L155 477.1 L155.6 477.6 L156.2 477.9 L156.8 477.6 L157.4 477.4 L158 477.9 L158.6 477.1 L159.2 478 L159.8 477.7 L160.4 477.2 L161 477.2 L161.6 477.3 L162.2 477.4 L162.8 477.9 L163.4 478 L164 477.9 L164.6 477.7 L165 477.8 L165.2 477.5 L165.8 477.3 L166.4 477.8 L167 478 L167.6 478.1 L168.2 477.5 L168.8 477.3 L169.4 477.5 L170 477.3 L170.6 477.4 L171.2 477.8 L171.8 477.9 L172.4 477.4 L173 478.3 L173.6 477.2 L174.2 477.4 L174.8 478.2 L175.4 477.9 L176 477.7 L176.6 477.5 L177.2 477.9 L177.8 477.7 L178.4 477.2 L179 477.7 L179.6 478.2 L180.2 478.1 L180.5 477.6 L180.8 474.8 L181.4 469.7 L181.8 466.7 L182 464 L182.5 458.7 L182.6 460.1 L183.2 467.9 L183.3 468.9 L183.8 473 L184.4 477 L184.5 477.5 L185 477.4 L185.6 478.2 L186.2 477 L186.8 477.7 L187.4 477.9 L188 477.6 L188.6 478.1 L189.2 478.2 L189.8 477.8 L190.4 477.7 L191 478.2 L191.6 477.2 L192.2 477.3 L192.8 477.3 L193.4 477.8 L194 477.9 L194.6 477.8 L195.2 477.8 L195.8 477.8 L196 478 L196.4 477.5 L197 478.4 L197.6 477.7 L198.2 477.9 L198.8 477.4 L199.4 477.3 L200 477.2 L200.6 478 L201.2 477.1 L201.8 477.3 L202.4 477.6 L203 477 L203.6 477.4 L204.2 477.3 L204.8 477.6 L205 477.3 L205.4 477.4 L206 476.5 L206.6 476.1 L207.2 476.7 L207.8 475.3 L208.4 476.1 L209 475.3 L209.6 475.6 L210.2 476.6 L210.8 477.1 L211 476.9 L211.4 476.5 L212 475.5 L212.6 474.8 L213 474.4 L213.2 474 L213.8 475.6 L214.4 476 L215 475.9 L215.6 474.3 L216.2 474.4 L216.8 472.5 L217 472.4 L217.4 472.7 L218 474.9 L218.6 475.3 L219 476.4 L219.2 472.7 L219.8 462.6 L220.4 451.3 L220.5 449 L221 457.8 L221.3 462.6 L221.6 466.1 L222.2 473.3 L222.5 477.5 L222.8 477.8 L223.4 477.1 L224 478.1 L224.6 477.8 L225.2 478.2 L225.8 477.7 L226.4 478.2 L227 478.9 L227.6 478 L228 478.5 L228.2 478.6 L228.8 479 L229.4 478.6 L230 478.4 L230.6 479 L231.2 478.6 L231.8 478.6 L232.4 478.7 L233 478.6 L233.6 478 L234.2 477.6 L234.8 477.6 L235 478.1 L235.4 478 L236 477.9 L236.6 477 L237.2 476.9 L237.8 476.4 L238 476.7 L238.4 476.6 L239 477.1 L239.6 477.8 L240 478.2 L240.2 477.9 L240.8 478.1 L241.4 478.3 L242 478.2 L242.6 477.4 L243.2 477.7 L243.8 477.8 L244 477.7 L244.4 474.6 L245 470.6 L245.6 474.7 L246 477.8 L246.2 477.5 L246.8 477.9 L247.4 477.6 L248 477.2 L248.6 477.7 L249.2 478.2 L249.8 477.2 L250.4 477.3 L251 477.2 L251.6 477.4 L252.2 477.5 L252.8 477.9 L253.4 477.6 L254 478 L254.6 477.5 L255.2 477.3 L255.8 478.3 L256.4 477.9 L257 477.7 L257.6 477.3 L258.2 477.9 L258.8 478.3 L259.4 477.3 L260 477.3 L260.6 477.7 L261.2 478 L261.8 477.2 L262 477.8 L262.4 477.4 L263 478.3 L263.6 477.9 L264.2 477.9 L264.8 477.8 L265.4 476.9 L266 477.7 L266.6 476.9 L267.2 476.8 L267.8 477.6 L268.4 476.7 L269 476.5 L269.6 477.2 L270 476.8 L270.2 476.5 L270.8 476.4 L271.4 475 L272 474.7 L272.6 473.8 L273 473.8 L273.2 472.1 L273.8 468.6 L274 467.3 L274.4 464.2 L275 459.7 L275.6 465.3 L276 469.5 L276.2 470.5 L276.8 471.5 L277 471.8 L277.4 469.3 L278 466.2 L278.6 470.3 L279 473.8 L279.2 474 L279.8 472.5 L280.4 472.1 L281 471.8 L281.6 472.3 L282.2 474 L282.8 474 L283 474.8 L283.4 474.8 L284 475.4 L284.6 476 L285.2 476.2 L285.8 476.3 L286 476.3 L286.4 476.8 L287 476.3 L287.6 476.9 L288.2 476.7 L288.8 476.8 L289.4 476.5 L290 476.2 L290.6 476.1 L291.2 476.8 L291.8 476.1 L292.4 476.4 L293 476.7 L293.6 477.2 L294.2 476.8 L294.8 476.9 L295.4 476.2 L296 476.1 L296.6 476.7 L297.2 476.9 L297.8 476.2 L298 476.8 L298.4 476.6 L299 476.3 L299.6 477 L300.2 476.7 L300.8 476.6 L301.4 476.8 L302 477 L302.6 477.2 L303.2 476.9 L303.8 476.9 L304.4 476.6 L305 477.2 L305.6 476.2 L306.2 476.5 L306.8 476.6 L307.4 477 L308 477.1 L308.6 477.2 L309.2 477.1 L309.8 476.7 L310 476.8 L310.4 473.3 L311 469.2 L311.6 465.2 L311.7 464.2 L312.2 469.3 L312.8 475 L313 476.3 L313.4 476.2 L314 476.6 L314.6 476 L315.2 476.1 L315.8 475.7 L316.4 476.4 L317 476.1 L317.6 476.2 L318.2 476.2 L318.8 476.4 L319.4 476.8 L320 476.7 L320.6 476.1 L321.2 476.7 L321.8 476.1 L322.4 476.3 L323 476.6 L323.6 476.6 L324.2 475.9 L324.8 475.8 L325 476.3 L325.4 475.9 L326 476.7 L326.6 475.6 L327.2 475.6 L327.8 475.8 L328.4 475.8 L329 476.4 L329.6 475.5 L330.2 475.3 L330.8 475.2 L331.4 475.7 L332 475.7 L332.6 475.2 L333.2 474.8 L333.8 475.5 L334.4 474.9 L335 474.6 L335.6 474.7 L336.2 474.5 L336.8 474.8 L337.4 474.5 L338 474.8 L338.6 472.7 L339 470.7 L339.2 470 L339.8 467.5 L340 467.3 L340.4 468.8 L341 471.8 L341.6 473.6 L342 474.8 L342.2 475.4 L342.8 475.4 L343.4 475.4 L344 474.7 L344.6 474.4 L345.2 475.1 L345.8 475.1 L346.4 474.3 L347 474.6 L347.6 474.4 L348 474.8 L348.2 473.6 L348.8 472.4 L349.4 469.7 L350 468.1 L350.6 470.2 L351.2 472.2 L351.8 473.8 L352 474.8 L352.4 474.3 L353 475 L353.6 475.2 L354.2 474.5 L354.8 474.8 L355.4 475.1 L356 475.3 L356.6 474.3 L357.2 474.9 L357.8 474.8 L358.4 475.2 L359 474.3 L359.6 474.8 L360 474.8 L360.2 474.5 L360.8 474.7 L361.4 475.3 L362 475.2 L362.6 474.1 L363.2 474.3 L363.8 474.4 L364.4 474.5 L365 474.7 L365.6 474.4 L366.2 474.3 L366.8 474.1 L367.4 474.6 L368 474.4 L368.6 474.4 L369.2 474.1 L369.8 474.3 L370 474.3 L370.4 474.1 L371 473 L371.6 471.7 L372 471.8 L372.2 471.5 L372.8 469.9 L373 469.5 L373.4 468.6 L374 466.5 L374.6 465.4 L375 464.2 L375.2 465.7 L375.8 470.8 L376 471.8 L376.4 471.1 L377 471.5 L377.6 471 L378 470.1 L378.2 470.7 L378.8 471.7 L379.4 472.9 L380 473.3 L380.6 473.8 L381.2 473.1 L381.8 473.8 L382.4 473.6 L383 472.9 L383.6 473.9 L384.2 473.1 L384.8 472.9 L385.4 473.4 L386 473.5 L386.6 474.1 L387.2 473.4 L387.8 473.5 L388.4 473.9 L389 473.2 L389.6 473.7 L390.2 473.3 L390.8 473.5 L391.4 473.8 L392 473.8 L392.6 473.4 L393.2 473.6 L393.8 474.1 L394.4 473.7 L395 473.6 L395.6 473.2 L396.2 473.7 L396.8 473.5 L397.4 473.6 L398 473.7 L398.6 473 L399.2 473.7 L399.8 473.3 L400.4 472.6 L401 473.2 L401.6 472.5 L402.2 472.5 L402.8 472.2 L403 472.8 L403.4 472.1 L404 469.5 L404.5 468.4 L404.6 467 L405 464.2 L405.2 465.7 L405.8 467.3 L406.4 470.3 L406.5 470.7 L407 469.8 L407.6 468.7 L408 468.4 L408.2 467.3 L408.8 466 L409 465 L409.4 466.2 L410 469.4 L410.6 471.6 L411 472.8 L411.2 472.3 L411.8 472.6 L412.4 473.2 L413 472.4 L413.6 472.5 L414.2 472 L414.8 472.6 L415.4 472.8 L416 472.5 L416.6 471.9 L417.2 472 L417.8 471.9 L418 472.3 L418.4 472.8 L419 472.5 L419.6 472.9 L420.2 473.1 L420.8 473.1 L421.4 473.5 L422 472.9 L422.6 473.3 L423.2 473.7 L423.8 473.8 L424.4 473.2 L425 473.8 L425.6 473.4 L426.2 473.4 L426.8 473.2 L427.4 474 L428 473.7 L428.6 473.8 L429.2 473.6 L429.8 473.3 L430.4 473.3 L431 472.7 L431.6 472.4 L432 472.8 L432.2 473 L432.8 471.8 L433.4 471 L434 469.8 L434.5 469.5 L434.6 468.3 L435.2 465.4 L435.8 460.4 L436.4 456.9 L437 462.2 L437.6 467.3 L438 470.7 L438.2 471 L438.8 471.1 L439.4 471 L440 472.1 L440.6 471.6 L441 472.3 L441.2 472.7 L441.8 472.6 L442.4 471.3 L443 471.9 L443.6 471.2 L444.2 470.9 L444.8 471.6 L445 471.2 L445.4 471.2 L446 471.2 L446.6 471.3 L447.2 471.6 L447.8 472.2 L448.4 472.3 L449 471.9 L449.6 472.4 L450 472.7 L450.2 473.1 L450.8 472.1 L451.4 472.9 L452 472 L452.6 472.8 L453.2 472.7 L453.8 472.3 L454.4 472.8 L455 472 L455.6 472.1 L456.2 473 L456.8 472.5 L457.4 472.9 L458 472.4 L458.6 471.7 L459.2 471.7 L459.8 472 L460 472.2 L460.4 472 L461 472.7 L461.6 472.3 L462.2 472 L462.8 472.1 L463.4 472.4 L464 471.8 L464.6 471.9 L465.2 471.7 L465.8 472.1 L466.4 472.1 L467 472.2 L467.6 471.3 L468.2 471.3 L468.8 472 L469.4 471.5 L470 471.4 L470.6 470.9 L471.2 471.1 L471.8 470.7 L472.4 470.8 L473 471.1 L473.6 471.5 L474.2 471.1 L474.8 470.9 L475.4 471 L476 471.1 L476.6 471.3 L477.2 471.3 L477.8 471.1 L478.4 470.7 L479 470.4 L479.6 470.7 L480 470.7 L480.2 471.2 L480.8 471.1 L481.4 470.1 L482 470.8 L482.6 470.3 L483.2 470 L483.8 470.8 L484.4 469.9 L485 470.7 L485.3 470.1 L485.6 468.4 L486.2 464.1 L486.5 462.5 L486.8 460.9 L487.4 458 L487.6 456.4 L488 458.5 L488.6 462.2 L488.8 463.6 L489.2 465.1 L489.8 468.3 L490 469.5 L490.4 469.6 L491 469.8 L491.6 469.1 L492.2 469.6 L492.8 469.6 L493.4 468.9 L494 469.4 L494.6 468.5 L495 468.9 L495.2 468.1 L495.8 465.5 L496.4 462.9 L497 466.6 L497.5 468.9 L497.6 469.1 L498.2 468.5 L498.8 469.1 L499.4 468.4 L500 470.1 L500.6 468.8 L501.2 467.6 L501.8 466.6 L502.4 466.4 L503 464.5 L503.6 465.1 L504.2 464.5 L504.8 465.6 L505.4 463.9 L506 464.8 L506.6 462.9 L507.2 463.7 L507.8 461.1 L508 461.2 L508.4 461.5 L509 460.7 L509.6 460.2 L510.2 459.5 L510.8 461 L511.4 461.1 L511.7 460.1 L512 458.7 L512.6 458.7 L513.2 456.6 L513.8 456.7 L514 456 L514.4 455.5 L515 453.8 L515.6 455.4 L516.2 454.4 L516.3 453.3 L516.8 451 L517.4 449.7 L518 446.5 L518.4 444.4 L518.6 442.9 L519.2 442.2 L519.8 441.7 L520.4 440.5 L520.7 438.5 L521 439.3 L521.6 440 L522.2 441.7 L522.5 441 L522.8 439.2 L523.4 437.8 L524 435.3 L524.6 435.3 L525.2 432.6 L525.8 426.2 L526.4 416.5 L527 409.2 L527.3 405.9 L527.6 402.1 L528.2 397.2 L528.7 391.1 L528.8 394.5 L529.4 408.4 L529.6 414.8 L530 410.2 L530.6 403.8 L531 398 L531.2 394.4 L531.8 385.8 L532 383.7 L532.4 391.5 L533 405.6 L533.2 408.9 L533.6 405 L534.2 399.8 L534.8 394.4 L535 394 L535.4 399.8 L536 405.2 L536.6 412.4 L537 417.8 L537.2 417.2 L537.8 411.3 L538.4 407.4 L538.5 406 L539 414.3 L539.6 421.3 L540.2 431.8 L540.3 432.6 L540.8 424 L541.4 413.9 L542 402.5 L542.4 397 L542.6 387.4 L543.2 361.1 L543.8 334.4 L543.9 330.4 L544.4 340.5 L544.6 345 L545 337.9 L545.3 331.9 L545.6 341.5 L546.2 359.6 L546.8 379.3 L547.4 396.8 L548 415.1 L548.3 423.7 L548.6 428.9 L549.2 437.7 L549.8 446.4 L550.4 454.8 L551 452.9 L551.6 450.6 L552.2 449 L552.8 445.6 L553.3 444.4 L553.4 443.6 L554 434.2 L554.6 424.4 L555.2 413.2 L555.7 405.9 L555.8 406 L556.4 414.1 L557 423.6 L557.6 431.1 L557.8 432.6 L558.2 435.4 L558.8 436.5 L559.4 437.8 L560 441.6 L560.1 441.5 L560.6 448.2 L561.2 453.7 L561.8 459.4 L562.2 465.2 L562.4 464.6 L563 465.4 L563.6 464.8 L564.2 465.1 L564.8 466.9 L565.4 467.2 L566 466.3 L566.6 467 L566.7 466.7 L567.2 468 L567.8 466.2 L568.4 467.1 L569 466.3 L569.6 467.3 L570 468 L570.2 467.6 L570.8 468.4 L571.4 467.7 L572 466.8 L572.6 466.2 L573.2 466 L573.8 466 L574 467 L574.4 466.1 L575 467.3 L575.6 469.1 L576.2 469.3 L576.8 468.4 L577.4 469.8 L578 468.3 L578.6 469.2 L579.2 469.7 L579.8 467.4 L580.4 468.2 L581 467 L581.6 468.3 L582.2 468 L582.8 468 L583.4 468.3 L584 468.8 L584.6 469.4 L584.8 468.5 L585.2 467.1 L585.8 467.3 L586.4 466.7 L587 465.9 L587.6 464.3 L588.2 465.7 L588.5 464.3 L588.8 463.6 L589.4 462.4 L590 462.3 L590.6 462.2 L591.2 460.6 L591.8 460.2 L592.2 459.6 L592.4 458.7 L593 456.4 L593.6 452.7 L594 450.4 L594.2 451.2 L594.8 451.2 L595.4 454 L596 454 L596.6 448.8 L597.2 445 L597.8 441 L598.4 436.4 L598.7 433.7 L599 438.9 L599.6 450.4 L600.2 442.8 L600.8 433.8 L601.4 425.8 L601.5 425.4 L602 428.7 L602.6 434.8 L603.2 437.5 L603.3 439.3 L603.8 436.3 L604.4 434.4 L605 433.7 L605.6 431.8 L606 430 L606.2 428.2 L606.8 420.7 L607 417 L607.4 411.8 L608 405.1 L608.6 395.8 L608.9 393 L609.2 400.5 L609.8 413.3 L610.4 417.2 L611 421.5 L611.6 426.4 L611.7 426.3 L612.2 431.2 L612.8 434.9 L613.4 441 L613.5 441 L614 442.2 L614.6 444.8 L615.2 448.7 L615.8 451.8 L616.4 455 L617 457 L617.2 457.8 L617.6 456.8 L618.2 453.6 L618.8 452.3 L619 452.2 L619.4 451.2 L620 446.5 L620.6 443.5 L621.2 439.4 L621.8 437.8 L622.4 433.4 L622.8 431 L623 433.6 L623.6 436.7 L624.2 441.1 L624.8 444.4 L625.4 447.9 L625.6 450.4 L626 451.3 L626.6 454.9 L627 457 L627.2 456.1 L627.8 451.9 L628.4 450.3 L628.9 446.7 L629 448.8 L629.6 455.1 L630.2 461.5 L630.8 460.7 L631.4 461.2 L632 459.5 L632.6 460.4 L633.2 459.8 L633.8 460.1 L634.4 460.1 L634.8 459.6 L635 459.1 L635.6 456.6 L636.2 456.3 L636.8 454.4 L637.4 453 L638 451.4 L638.6 451.3 L639.2 448.4 L639.4 448.5 L639.8 450 L640.4 452.7 L641 457.4 L641.3 457.8 L641.6 458 L642.2 458.4 L642.8 458.6 L643.4 457.9 L644 458.7 L644.6 459 L645.2 460.5 L645.8 460.5 L645.9 459.6 L646.4 460.9 L647 459.8 L647.6 461.4 L648.2 460.9 L648.8 463.3 L649.4 461.8 L649.6 463.3 L650 462.3 L650.6 462.8 L651.2 461.4 L651.8 461.6 L652.4 461.7 L653 459.7 L653.6 458.5 L654.2 459.2 L654.8 457.7 L655.2 457.8 L655.4 458.4 L656 456.4 L656.6 457.1 L657.2 456.4 L657.8 455.6 L658.4 456.4 L659 456.1 L659.6 454.2 L660.2 454.5 L660.8 452.8 L661.4 453.5 L662 452.8 L662.6 452.2 L663.2 452.5 L663.8 449.9 L664.4 449.9 L665 448.4 L665.6 447.5 L666.2 446.6 L666.3 446.7 L666.8 444.2 L667.4 443.3 L668 441 L668.1 441.1 L668.6 439 L669.2 434.9 L669.8 432.3 L670.4 431.2 L671 428 L671.6 425.1 L672.2 424.5 L672.8 421.7 L673.4 420.4 L674 418.9 L674.6 421.4 L675.2 423.4 L675.8 424 L675.9 424.4 L676.4 427.4 L677 432.1 L677.6 437.2 L678.2 441.1 L678.8 443.3 L678.9 444.8 L679.4 442 L680 437.6 L680.6 433.9 L681.2 432.6 L681.8 428.2 L682.4 424.6 L682.6 423.5 L683 427.3 L683.6 430.7 L684.2 434.1 L684.8 439.3 L685.4 437.8 L686 437.2 L686.6 435.1 L687.2 433.8 L687.8 430.4 L688.4 428.2 L688.5 429 L689 430.9 L689.6 436.1 L690.2 439.4 L690.4 439.3 L690.8 438.2 L691.4 438.2 L692 437.5 L692.6 437 L693 444" fill="none" stroke="#b83030" stroke-width="1.15" stroke-linejoin="round"/>
<text x="24.5" y="327.5" font-family="Liberation Sans, sans-serif" font-size="16.3" fill="#000" stroke="#000" stroke-width="0.5">S<tspan font-size="11" dx="1.5" dy="4.5" stroke-width="0.1">1</tspan><tspan dx="1.3" dy="-4.5">-</tspan><tspan dx="0.6">S</tspan><tspan font-size="11" dx="1.5" dy="4.5" stroke-width="0.1">0</tspan></text>
<text x="566.5" y="327.3" font-family="Liberation Sans, sans-serif" font-size="16.3" fill="#000" stroke="#000" stroke-width="0.5">S<tspan font-size="11" dx="1.5" dy="4.5" stroke-width="0.1">2</tspan><tspan dx="1.3" dy="-4.5">-</tspan><tspan dx="0.6">S</tspan><tspan font-size="11" dx="1.5" dy="4.5" stroke-width="0.1">0</tspan></text>
<text x="638.5" y="316.3" font-family="Liberation Sans, sans-serif" font-weight="bold" font-size="16.5" fill="#1a6aab"><tspan font-style="italic">a</tspan> type</text>
<text x="638.5" y="337.2" font-family="Liberation Sans, sans-serif" font-weight="bold" font-size="16.5" fill="#c00000"><tspan font-style="italic">b</tspan> type</text>
<text transform="translate(38 430.1) rotate(-90)" font-family="Liberation Sans, sans-serif" font-size="18" fill="#1a6aab" stroke="#1a6aab" stroke-width="0.45">0 – 0 [1]</text>
<path d="M33.3 435.8 L33.3 462.7" stroke="#106ab2" stroke-width="5"/><path d="M28.1 461.7 L38.4 461.7 L33.3 472.5 Z" fill="#106ab2"/>
<text transform="translate(95.8 419.8) rotate(-90)" font-family="Liberation Sans, sans-serif" font-size="18.3" fill="#c00000" stroke="#c00000" stroke-width="0.45">435 cm-1 [1,2]</text>
<text transform="translate(186.3 425.1) rotate(-90)" font-family="Liberation Sans, sans-serif" font-size="18" fill="#c00000" stroke="#c00000" stroke-width="0.45">1380 cm<tspan font-size="9.6" dx="1.6" dy="-7.3">-1</tspan><tspan dx="0.8" dy="7.3"> [3]</tspan></text>
<text transform="translate(206.1 418.4) rotate(-90)" font-family="Liberation Sans, sans-serif" font-size="17.8" fill="#1a6aab" stroke="#1a6aab" stroke-width="0.45">1390 cm<tspan font-size="9.6" dx="1.6" dy="-7.3">-1</tspan><tspan dx="0.8" dy="7.3"> [3]</tspan></text>
<text transform="translate(225.9 415) rotate(-90)" font-family="Liberation Sans, sans-serif" font-size="17.4" fill="#c00000" stroke="#c00000" stroke-width="0.45">1422 cm<tspan font-size="9.2" dx="1.6" dy="-7.3">-1</tspan><tspan dx="0.8" dy="7.3"></tspan></text>
<text transform="translate(249.8 410.9) rotate(-90)" font-family="Liberation Sans, sans-serif" font-size="17.6" fill="#1a6aab" stroke="#1a6aab" stroke-width="0.45">1432 cm<tspan font-size="9.2" dx="1.6" dy="-7.3">-1</tspan><tspan dx="0.8" dy="7.3"></tspan></text>
<path d="M185.8 424.2 L208.4 459.9" stroke="#e81010" stroke-width="4.5"/><path d="M203.5 461.8 L212.3 456.2 L213.8 468.3 Z" fill="#e81010"/>
<path d="M200 425.8 L210.9 450.1" stroke="#106ab2" stroke-width="4.5"/><path d="M205.7 451.3 L215.3 447 L215 459.2 Z" fill="#106ab2"/>
<path d="M220 419.2 L220 436.8" stroke="#e81010" stroke-width="4.5"/><path d="M215 435.8 L225 435.8 L220 445.8 Z" fill="#e81010"/>
<path d="M243.3 419.2 L229.6 440.8" stroke="#106ab2" stroke-width="4.5"/><path d="M225.7 437.1 L234.5 442.7 L224.2 449.2 Z" fill="#106ab2"/>
<text transform="translate(320.3 421.8) rotate(-90)" font-family="Liberation Sans, sans-serif" font-size="18" fill="#c00000" stroke="#c00000" stroke-width="0.45">2122 cm<tspan font-size="9.6" dx="1.6" dy="-7.3">-1</tspan><tspan dx="0.8" dy="7.3"></tspan></text>
<path d="M313 429.2 L313 453.9" stroke="#e81010" stroke-width="4.0"/><path d="M308 452.9 L318 452.9 L313 462.5 Z" fill="#e81010"/>
<text transform="translate(377 425.1) rotate(-90)" font-family="Liberation Sans, sans-serif" font-size="18" fill="#c00000" stroke="#c00000" stroke-width="0.45">2570 cm<tspan font-size="9.6" dx="1.6" dy="-7.3">-1</tspan><tspan dx="0.8" dy="7.3">  [3]</tspan></text>
<path d="M370 433 L370 448.1" stroke="#e81010" stroke-width="4.0"/><path d="M364.9 447.1 L375.1 447.1 L370 456.7 Z" fill="#e81010"/>
<text transform="translate(411.1 429.8) rotate(-90)" font-family="Liberation Sans, sans-serif" font-size="18" fill="#1a6aab" stroke="#1a6aab" stroke-width="0.45">2866 cm<tspan font-size="9.6" dx="1.6" dy="-7.3">-1</tspan><tspan dx="0.8" dy="7.3"></tspan></text>
<path d="M405 439.2 L405 453.1" stroke="#106ab2" stroke-width="4.0"/><path d="M400 452.1 L410 452.1 L405 461.7 Z" fill="#106ab2"/>
<text transform="translate(442.3 420.1) rotate(-90)" font-family="Liberation Sans, sans-serif" font-size="18" fill="#c00000" stroke="#c00000" stroke-width="0.45">3068 cm<tspan font-size="9.6" dx="1.6" dy="-7.3">-1</tspan><tspan dx="0.8" dy="7.3"></tspan></text>
<path d="M436.3 428 L436.3 444.7" stroke="#e81010" stroke-width="4.0"/><path d="M431.3 443.7 L441.3 443.7 L436.3 453.3 Z" fill="#e81010"/>
<path d="M229.8 477.5 L234.7 486.7 L224.9 486.7 Z" fill="#000"/>
<rect x="227.4" y="487.5" width="4.7" height="4" fill="#000"/>
<rect x="227.4" y="493.6" width="4.7" height="4" fill="#000"/>
<rect x="227.4" y="499.8" width="4.7" height="4" fill="#000"/>
<rect x="227.4" y="506" width="4.7" height="4" fill="#000"/>
<text x="175.5" y="526.7" font-family="Liberation Sans, sans-serif" font-size="17.3" fill="#000" stroke="#000" stroke-width="0.3">1559 cm<tspan font-size="9.6" dx="2.2" dy="-7">-1</tspan><tspan dx="3.2" dy="7">  [4]</tspan></text>
<text x="300.2" y="526.6" font-family="Liberation Sans, sans-serif" font-weight="bold" font-size="15.4" letter-spacing="0.35" fill="#000">Wavenumber / cm<tspan font-size="9.5" dx="0.5" dy="-6.3">-1</tspan></text>
</svg>
</body></html>
